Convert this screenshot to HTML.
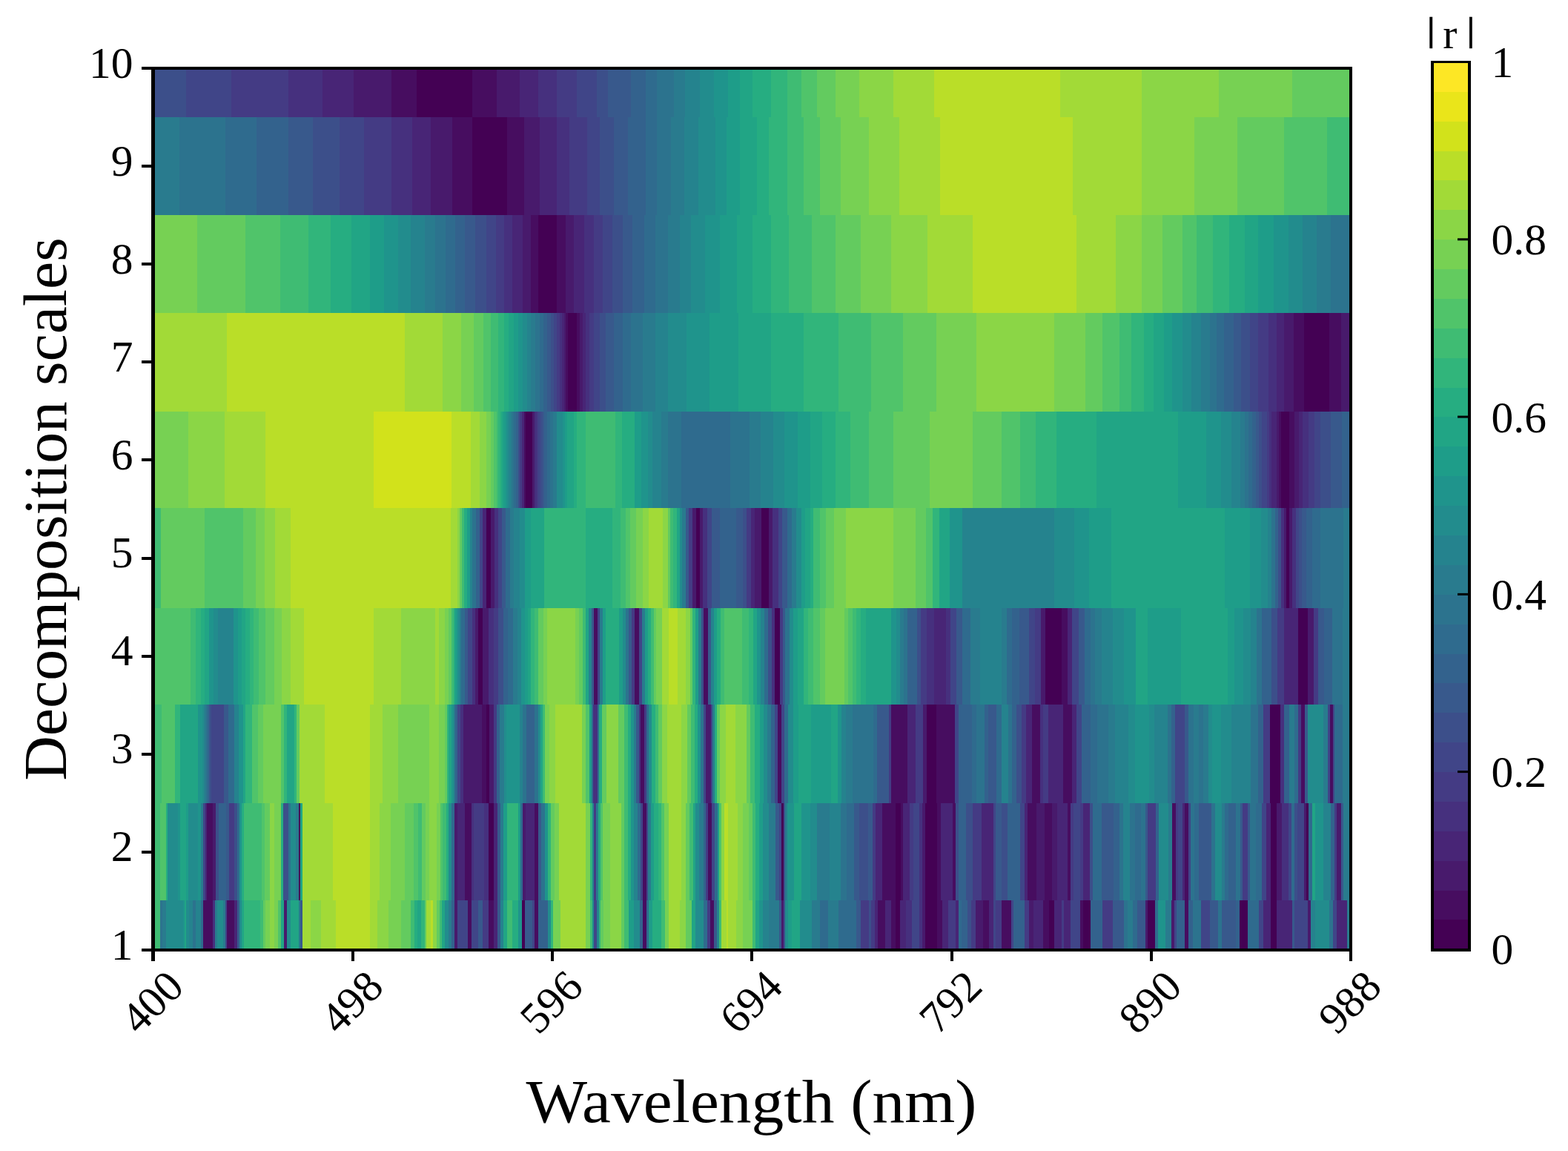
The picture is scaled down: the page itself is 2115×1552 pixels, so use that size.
<!DOCTYPE html>
<html lang="en"><head><meta charset="utf-8"><title>Correlation heat map</title>
<style>html,body{margin:0;padding:0;background:#fff;}body{width:2115px;height:1552px;overflow:hidden;}svg{display:block;}</style>
</head><body>
<svg width="2115" height="1552" viewBox="0 0 2115 1552">
<rect x="0" y="0" width="2115" height="1552" fill="#ffffff"/>
<g shape-rendering="crispEdges">
<rect x="206.50" y="1213.00" width="10.28" height="66.00" fill="#3fbc73"/>
<rect x="216.48" y="1213.00" width="8.05" height="66.00" fill="#50c46a"/>
<rect x="1809.49" y="1213.00" width="3.21" height="66.00" fill="#38598c"/>
<rect x="1812.40" y="1213.00" width="9.90" height="66.00" fill="#297b8e"/>
<rect x="206.50" y="94.00" width="45.05" height="63.80" fill="#3c4f8a"/>
<rect x="251.25" y="94.00" width="60.80" height="63.80" fill="#404588"/>
<rect x="311.75" y="94.00" width="77.37" height="63.80" fill="#443b84"/>
<rect x="388.82" y="94.00" width="46.54" height="63.80" fill="#46307e"/>
<rect x="435.06" y="94.00" width="42.69" height="63.80" fill="#482576"/>
<rect x="477.45" y="94.00" width="50.39" height="63.80" fill="#481a6c"/>
<rect x="527.54" y="94.00" width="34.98" height="63.80" fill="#470d60"/>
<rect x="562.22" y="94.00" width="75.44" height="63.80" fill="#440154"/>
<rect x="637.36" y="94.00" width="33.05" height="63.80" fill="#470d60"/>
<rect x="670.12" y="94.00" width="31.13" height="63.80" fill="#481a6c"/>
<rect x="700.95" y="94.00" width="25.35" height="63.80" fill="#482576"/>
<rect x="725.99" y="94.00" width="25.35" height="63.80" fill="#46307e"/>
<rect x="751.04" y="94.00" width="27.27" height="63.80" fill="#443b84"/>
<rect x="778.01" y="94.00" width="27.27" height="63.80" fill="#404588"/>
<rect x="804.99" y="94.00" width="15.71" height="63.80" fill="#3c4f8a"/>
<rect x="820.40" y="94.00" width="31.13" height="63.80" fill="#38598c"/>
<rect x="851.23" y="94.00" width="19.57" height="63.80" fill="#33628d"/>
<rect x="870.50" y="94.00" width="15.71" height="63.80" fill="#2f6b8e"/>
<rect x="885.91" y="94.00" width="23.42" height="63.80" fill="#2c738e"/>
<rect x="909.03" y="94.00" width="15.71" height="63.80" fill="#297b8e"/>
<rect x="924.44" y="94.00" width="19.57" height="63.80" fill="#25838e"/>
<rect x="943.71" y="94.00" width="19.57" height="63.80" fill="#228c8d"/>
<rect x="962.98" y="94.00" width="19.57" height="63.80" fill="#1f948c"/>
<rect x="982.25" y="94.00" width="15.71" height="63.80" fill="#1e9d89"/>
<rect x="997.66" y="94.00" width="17.64" height="63.80" fill="#21a585"/>
<rect x="1015.00" y="94.00" width="25.35" height="63.80" fill="#26ad81"/>
<rect x="1040.05" y="94.00" width="22.26" height="63.80" fill="#31b57b"/>
<rect x="1062.01" y="94.00" width="19.18" height="63.80" fill="#3fbc73"/>
<rect x="1080.89" y="94.00" width="21.11" height="63.80" fill="#50c46a"/>
<rect x="1101.70" y="94.00" width="25.73" height="63.80" fill="#63cb5f"/>
<rect x="1127.13" y="94.00" width="32.28" height="63.80" fill="#77d153"/>
<rect x="1159.12" y="94.00" width="45.77" height="63.80" fill="#8bd646"/>
<rect x="1204.59" y="94.00" width="55.79" height="63.80" fill="#a2da37"/>
<rect x="1260.08" y="94.00" width="170.24" height="63.80" fill="#bade28"/>
<rect x="1430.01" y="94.00" width="110.12" height="63.80" fill="#a2da37"/>
<rect x="1539.84" y="94.00" width="104.34" height="63.80" fill="#8bd646"/>
<rect x="1643.88" y="94.00" width="99.33" height="63.80" fill="#77d153"/>
<rect x="1742.91" y="94.00" width="79.39" height="63.80" fill="#63cb5f"/>
<rect x="206.50" y="157.50" width="36.19" height="132.80" fill="#297b8e"/>
<rect x="242.39" y="157.50" width="61.95" height="132.80" fill="#2c738e"/>
<rect x="304.04" y="157.50" width="42.69" height="132.80" fill="#2f6b8e"/>
<rect x="346.43" y="157.50" width="42.69" height="132.80" fill="#33628d"/>
<rect x="388.82" y="157.50" width="33.05" height="132.80" fill="#38598c"/>
<rect x="421.57" y="157.50" width="36.91" height="132.80" fill="#3c4f8a"/>
<rect x="458.18" y="157.50" width="33.05" height="132.80" fill="#404588"/>
<rect x="490.93" y="157.50" width="36.91" height="132.80" fill="#443b84"/>
<rect x="527.54" y="157.50" width="29.20" height="132.80" fill="#46307e"/>
<rect x="556.44" y="157.50" width="25.35" height="132.80" fill="#482576"/>
<rect x="581.49" y="157.50" width="29.20" height="132.80" fill="#481a6c"/>
<rect x="610.39" y="157.50" width="27.27" height="132.80" fill="#470d60"/>
<rect x="637.36" y="157.50" width="46.54" height="132.80" fill="#440154"/>
<rect x="683.61" y="157.50" width="23.42" height="132.80" fill="#470d60"/>
<rect x="706.73" y="157.50" width="21.49" height="132.80" fill="#481a6c"/>
<rect x="727.92" y="157.50" width="23.42" height="132.80" fill="#482576"/>
<rect x="751.04" y="157.50" width="17.64" height="132.80" fill="#46307e"/>
<rect x="768.38" y="157.50" width="23.42" height="132.80" fill="#443b84"/>
<rect x="791.50" y="157.50" width="17.64" height="132.80" fill="#404588"/>
<rect x="808.84" y="157.50" width="19.57" height="132.80" fill="#3c4f8a"/>
<rect x="828.11" y="157.50" width="19.57" height="132.80" fill="#38598c"/>
<rect x="847.38" y="157.50" width="23.42" height="132.80" fill="#33628d"/>
<rect x="870.50" y="157.50" width="15.71" height="132.80" fill="#2f6b8e"/>
<rect x="885.91" y="157.50" width="19.57" height="132.80" fill="#2c738e"/>
<rect x="905.18" y="157.50" width="17.64" height="132.80" fill="#297b8e"/>
<rect x="922.52" y="157.50" width="19.57" height="132.80" fill="#25838e"/>
<rect x="941.78" y="157.50" width="23.42" height="132.80" fill="#228c8d"/>
<rect x="964.91" y="157.50" width="15.71" height="132.80" fill="#1f948c"/>
<rect x="980.32" y="157.50" width="17.64" height="132.80" fill="#1e9d89"/>
<rect x="997.66" y="157.50" width="23.42" height="132.80" fill="#21a585"/>
<rect x="1020.78" y="157.50" width="16.87" height="132.80" fill="#26ad81"/>
<rect x="1037.35" y="157.50" width="24.96" height="132.80" fill="#31b57b"/>
<rect x="1062.01" y="157.50" width="22.65" height="132.80" fill="#3fbc73"/>
<rect x="1084.36" y="157.50" width="21.88" height="132.80" fill="#50c46a"/>
<rect x="1105.94" y="157.50" width="28.04" height="132.80" fill="#63cb5f"/>
<rect x="1133.69" y="157.50" width="38.83" height="132.80" fill="#77d153"/>
<rect x="1172.22" y="157.50" width="41.15" height="132.80" fill="#8bd646"/>
<rect x="1213.07" y="157.50" width="55.02" height="132.80" fill="#a2da37"/>
<rect x="1267.78" y="157.50" width="179.10" height="132.80" fill="#bade28"/>
<rect x="1446.58" y="157.50" width="93.55" height="132.80" fill="#a2da37"/>
<rect x="1539.84" y="157.50" width="71.20" height="132.80" fill="#8bd646"/>
<rect x="1610.74" y="157.50" width="58.49" height="132.80" fill="#77d153"/>
<rect x="1668.93" y="157.50" width="63.11" height="132.80" fill="#63cb5f"/>
<rect x="1731.74" y="157.50" width="58.10" height="132.80" fill="#50c46a"/>
<rect x="1789.54" y="157.50" width="32.76" height="132.80" fill="#3fbc73"/>
<rect x="206.50" y="290.00" width="60.08" height="132.30" fill="#77d153"/>
<rect x="266.28" y="290.00" width="65.04" height="132.30" fill="#63cb5f"/>
<rect x="331.02" y="290.00" width="47.31" height="132.30" fill="#50c46a"/>
<rect x="378.03" y="290.00" width="38.06" height="132.30" fill="#3fbc73"/>
<rect x="415.79" y="290.00" width="30.36" height="132.30" fill="#31b57b"/>
<rect x="445.85" y="290.00" width="28.82" height="132.30" fill="#26ad81"/>
<rect x="474.36" y="290.00" width="24.58" height="132.30" fill="#21a585"/>
<rect x="498.64" y="290.00" width="19.95" height="132.30" fill="#1e9d89"/>
<rect x="518.29" y="290.00" width="19.18" height="132.30" fill="#1f948c"/>
<rect x="537.17" y="290.00" width="16.87" height="132.30" fill="#228c8d"/>
<rect x="553.74" y="290.00" width="19.57" height="132.30" fill="#25838e"/>
<rect x="573.01" y="290.00" width="14.56" height="132.30" fill="#297b8e"/>
<rect x="587.27" y="290.00" width="13.79" height="132.30" fill="#2c738e"/>
<rect x="600.76" y="290.00" width="13.79" height="132.30" fill="#2f6b8e"/>
<rect x="614.24" y="290.00" width="13.02" height="132.30" fill="#33628d"/>
<rect x="626.96" y="290.00" width="14.56" height="132.30" fill="#38598c"/>
<rect x="641.22" y="290.00" width="14.94" height="132.30" fill="#3c4f8a"/>
<rect x="655.86" y="290.00" width="13.79" height="132.30" fill="#404588"/>
<rect x="669.35" y="290.00" width="10.70" height="132.30" fill="#443b84"/>
<rect x="679.75" y="290.00" width="11.86" height="132.30" fill="#46307e"/>
<rect x="691.31" y="290.00" width="13.79" height="132.30" fill="#482576"/>
<rect x="704.80" y="290.00" width="11.86" height="132.30" fill="#481a6c"/>
<rect x="716.36" y="290.00" width="9.93" height="132.30" fill="#470d60"/>
<rect x="725.99" y="290.00" width="25.35" height="132.30" fill="#440154"/>
<rect x="751.04" y="290.00" width="11.86" height="132.30" fill="#470d60"/>
<rect x="762.60" y="290.00" width="11.86" height="132.30" fill="#481a6c"/>
<rect x="774.16" y="290.00" width="13.79" height="132.30" fill="#482576"/>
<rect x="787.65" y="290.00" width="13.79" height="132.30" fill="#46307e"/>
<rect x="801.13" y="290.00" width="11.86" height="132.30" fill="#443b84"/>
<rect x="812.70" y="290.00" width="13.79" height="132.30" fill="#404588"/>
<rect x="826.18" y="290.00" width="13.79" height="132.30" fill="#3c4f8a"/>
<rect x="839.67" y="290.00" width="13.79" height="132.30" fill="#38598c"/>
<rect x="853.16" y="290.00" width="15.71" height="132.30" fill="#33628d"/>
<rect x="868.57" y="290.00" width="15.71" height="132.30" fill="#2f6b8e"/>
<rect x="883.98" y="290.00" width="17.64" height="132.30" fill="#2c738e"/>
<rect x="901.32" y="290.00" width="15.71" height="132.30" fill="#297b8e"/>
<rect x="916.74" y="290.00" width="15.71" height="132.30" fill="#25838e"/>
<rect x="932.15" y="290.00" width="19.57" height="132.30" fill="#228c8d"/>
<rect x="951.42" y="290.00" width="19.57" height="132.30" fill="#1f948c"/>
<rect x="970.69" y="290.00" width="23.42" height="132.30" fill="#1e9d89"/>
<rect x="993.81" y="290.00" width="21.49" height="132.30" fill="#21a585"/>
<rect x="1015.00" y="290.00" width="25.35" height="132.30" fill="#26ad81"/>
<rect x="1040.05" y="290.00" width="24.19" height="132.30" fill="#31b57b"/>
<rect x="1063.94" y="290.00" width="31.51" height="132.30" fill="#3fbc73"/>
<rect x="1095.15" y="290.00" width="32.28" height="132.30" fill="#50c46a"/>
<rect x="1127.13" y="290.00" width="33.82" height="132.30" fill="#63cb5f"/>
<rect x="1160.66" y="290.00" width="41.92" height="132.30" fill="#77d153"/>
<rect x="1202.28" y="290.00" width="48.85" height="132.30" fill="#8bd646"/>
<rect x="1250.83" y="290.00" width="61.18" height="132.30" fill="#a2da37"/>
<rect x="1311.71" y="290.00" width="140.18" height="132.30" fill="#bade28"/>
<rect x="1451.59" y="290.00" width="53.86" height="132.30" fill="#a2da37"/>
<rect x="1505.16" y="290.00" width="34.98" height="132.30" fill="#8bd646"/>
<rect x="1539.84" y="290.00" width="28.43" height="132.30" fill="#77d153"/>
<rect x="1567.97" y="290.00" width="27.27" height="132.30" fill="#63cb5f"/>
<rect x="1594.94" y="290.00" width="19.57" height="132.30" fill="#50c46a"/>
<rect x="1614.21" y="290.00" width="22.26" height="132.30" fill="#3fbc73"/>
<rect x="1636.17" y="290.00" width="21.88" height="132.30" fill="#31b57b"/>
<rect x="1657.75" y="290.00" width="21.11" height="132.30" fill="#26ad81"/>
<rect x="1678.56" y="290.00" width="18.80" height="132.30" fill="#21a585"/>
<rect x="1697.06" y="290.00" width="21.49" height="132.30" fill="#1e9d89"/>
<rect x="1718.25" y="290.00" width="19.57" height="132.30" fill="#1f948c"/>
<rect x="1737.52" y="290.00" width="19.57" height="132.30" fill="#228c8d"/>
<rect x="1756.78" y="290.00" width="19.57" height="132.30" fill="#25838e"/>
<rect x="1776.05" y="290.00" width="19.57" height="132.30" fill="#297b8e"/>
<rect x="1795.32" y="290.00" width="26.98" height="132.30" fill="#2c738e"/>
<rect x="206.50" y="422.00" width="99.77" height="132.80" fill="#a2da37"/>
<rect x="305.97" y="422.00" width="239.98" height="132.80" fill="#bade28"/>
<rect x="545.65" y="422.00" width="51.55" height="132.80" fill="#a2da37"/>
<rect x="596.90" y="422.00" width="25.35" height="132.80" fill="#8bd646"/>
<rect x="621.95" y="422.00" width="16.87" height="132.80" fill="#77d153"/>
<rect x="638.52" y="422.00" width="13.40" height="132.80" fill="#63cb5f"/>
<rect x="651.62" y="422.00" width="11.09" height="132.80" fill="#50c46a"/>
<rect x="662.41" y="422.00" width="9.93" height="132.80" fill="#3fbc73"/>
<rect x="672.04" y="422.00" width="8.01" height="132.80" fill="#31b57b"/>
<rect x="679.75" y="422.00" width="6.85" height="132.80" fill="#26ad81"/>
<rect x="686.30" y="422.00" width="7.24" height="132.80" fill="#21a585"/>
<rect x="693.24" y="422.00" width="6.08" height="132.80" fill="#1e9d89"/>
<rect x="699.02" y="422.00" width="6.08" height="132.80" fill="#1f948c"/>
<rect x="704.80" y="422.00" width="6.08" height="132.80" fill="#228c8d"/>
<rect x="710.58" y="422.00" width="6.08" height="132.80" fill="#25838e"/>
<rect x="716.36" y="422.00" width="6.08" height="132.80" fill="#297b8e"/>
<rect x="722.14" y="422.00" width="6.08" height="132.80" fill="#2c738e"/>
<rect x="727.92" y="422.00" width="5.31" height="132.80" fill="#2f6b8e"/>
<rect x="732.93" y="422.00" width="5.31" height="132.80" fill="#33628d"/>
<rect x="737.94" y="422.00" width="4.92" height="132.80" fill="#38598c"/>
<rect x="742.56" y="422.00" width="4.92" height="132.80" fill="#3c4f8a"/>
<rect x="747.19" y="422.00" width="4.15" height="132.80" fill="#404588"/>
<rect x="751.04" y="422.00" width="4.15" height="132.80" fill="#443b84"/>
<rect x="754.89" y="422.00" width="3.38" height="132.80" fill="#46307e"/>
<rect x="757.98" y="422.00" width="3.00" height="132.80" fill="#482576"/>
<rect x="760.67" y="422.00" width="3.00" height="132.80" fill="#481a6c"/>
<rect x="763.37" y="422.00" width="3.38" height="132.80" fill="#470d60"/>
<rect x="766.45" y="422.00" width="11.86" height="132.80" fill="#440154"/>
<rect x="778.01" y="422.00" width="4.15" height="132.80" fill="#470d60"/>
<rect x="781.87" y="422.00" width="4.15" height="132.80" fill="#481a6c"/>
<rect x="785.72" y="422.00" width="4.15" height="132.80" fill="#482576"/>
<rect x="789.57" y="422.00" width="6.08" height="132.80" fill="#46307e"/>
<rect x="795.35" y="422.00" width="6.08" height="132.80" fill="#443b84"/>
<rect x="801.13" y="422.00" width="8.01" height="132.80" fill="#404588"/>
<rect x="808.84" y="422.00" width="8.01" height="132.80" fill="#3c4f8a"/>
<rect x="816.55" y="422.00" width="11.86" height="132.80" fill="#38598c"/>
<rect x="828.11" y="422.00" width="11.86" height="132.80" fill="#33628d"/>
<rect x="839.67" y="422.00" width="11.86" height="132.80" fill="#2f6b8e"/>
<rect x="851.23" y="422.00" width="15.71" height="132.80" fill="#2c738e"/>
<rect x="866.64" y="422.00" width="17.64" height="132.80" fill="#297b8e"/>
<rect x="883.98" y="422.00" width="17.64" height="132.80" fill="#25838e"/>
<rect x="901.32" y="422.00" width="25.35" height="132.80" fill="#228c8d"/>
<rect x="926.37" y="422.00" width="31.13" height="132.80" fill="#1f948c"/>
<rect x="957.20" y="422.00" width="38.83" height="132.80" fill="#1e9d89"/>
<rect x="995.73" y="422.00" width="44.61" height="132.80" fill="#21a585"/>
<rect x="1040.05" y="422.00" width="43.84" height="132.80" fill="#26ad81"/>
<rect x="1083.59" y="422.00" width="47.31" height="132.80" fill="#31b57b"/>
<rect x="1130.60" y="422.00" width="44.61" height="132.80" fill="#3fbc73"/>
<rect x="1174.92" y="422.00" width="43.46" height="132.80" fill="#50c46a"/>
<rect x="1218.08" y="422.00" width="45.00" height="132.80" fill="#63cb5f"/>
<rect x="1262.78" y="422.00" width="54.25" height="132.80" fill="#77d153"/>
<rect x="1316.72" y="422.00" width="105.11" height="132.80" fill="#8bd646"/>
<rect x="1421.54" y="422.00" width="42.69" height="132.80" fill="#77d153"/>
<rect x="1463.92" y="422.00" width="23.42" height="132.80" fill="#63cb5f"/>
<rect x="1487.04" y="422.00" width="23.42" height="132.80" fill="#50c46a"/>
<rect x="1510.17" y="422.00" width="15.71" height="132.80" fill="#3fbc73"/>
<rect x="1525.58" y="422.00" width="17.64" height="132.80" fill="#31b57b"/>
<rect x="1542.92" y="422.00" width="13.79" height="132.80" fill="#26ad81"/>
<rect x="1556.41" y="422.00" width="13.79" height="132.80" fill="#21a585"/>
<rect x="1569.89" y="422.00" width="11.86" height="132.80" fill="#1e9d89"/>
<rect x="1581.45" y="422.00" width="13.79" height="132.80" fill="#1f948c"/>
<rect x="1594.94" y="422.00" width="11.86" height="132.80" fill="#228c8d"/>
<rect x="1606.50" y="422.00" width="13.79" height="132.80" fill="#25838e"/>
<rect x="1619.99" y="422.00" width="11.86" height="132.80" fill="#297b8e"/>
<rect x="1631.55" y="422.00" width="9.93" height="132.80" fill="#2c738e"/>
<rect x="1641.18" y="422.00" width="9.93" height="132.80" fill="#2f6b8e"/>
<rect x="1650.82" y="422.00" width="13.02" height="132.80" fill="#33628d"/>
<rect x="1663.53" y="422.00" width="10.70" height="132.80" fill="#38598c"/>
<rect x="1673.94" y="422.00" width="11.86" height="132.80" fill="#3c4f8a"/>
<rect x="1685.50" y="422.00" width="11.86" height="132.80" fill="#404588"/>
<rect x="1697.06" y="422.00" width="13.79" height="132.80" fill="#443b84"/>
<rect x="1710.54" y="422.00" width="11.86" height="132.80" fill="#46307e"/>
<rect x="1722.10" y="422.00" width="9.93" height="132.80" fill="#482576"/>
<rect x="1731.74" y="422.00" width="13.79" height="132.80" fill="#481a6c"/>
<rect x="1745.22" y="422.00" width="13.79" height="132.80" fill="#470d60"/>
<rect x="1758.71" y="422.00" width="34.98" height="132.80" fill="#440154"/>
<rect x="1793.39" y="422.00" width="15.71" height="132.80" fill="#470d60"/>
<rect x="1808.81" y="422.00" width="13.49" height="132.80" fill="#481a6c"/>
<rect x="206.50" y="554.50" width="47.75" height="130.80" fill="#77d153"/>
<rect x="253.95" y="554.50" width="49.62" height="130.80" fill="#8bd646"/>
<rect x="303.27" y="554.50" width="55.02" height="130.80" fill="#a2da37"/>
<rect x="357.99" y="554.50" width="145.96" height="130.80" fill="#bade28"/>
<rect x="503.65" y="554.50" width="105.88" height="130.80" fill="#d2e21b"/>
<rect x="609.23" y="554.50" width="26.50" height="130.80" fill="#bade28"/>
<rect x="635.44" y="554.50" width="11.47" height="130.80" fill="#a2da37"/>
<rect x="646.61" y="554.50" width="9.55" height="130.80" fill="#8bd646"/>
<rect x="655.86" y="554.50" width="6.85" height="130.80" fill="#77d153"/>
<rect x="662.41" y="554.50" width="4.15" height="130.80" fill="#63cb5f"/>
<rect x="666.26" y="554.50" width="4.15" height="130.80" fill="#50c46a"/>
<rect x="670.12" y="554.50" width="2.61" height="130.80" fill="#3fbc73"/>
<rect x="672.43" y="554.50" width="2.61" height="130.80" fill="#31b57b"/>
<rect x="674.74" y="554.50" width="2.61" height="130.80" fill="#26ad81"/>
<rect x="677.05" y="554.50" width="2.61" height="130.80" fill="#21a585"/>
<rect x="679.37" y="554.50" width="2.61" height="130.80" fill="#1e9d89"/>
<rect x="681.68" y="554.50" width="2.61" height="130.80" fill="#1f948c"/>
<rect x="683.99" y="554.50" width="2.61" height="130.80" fill="#228c8d"/>
<rect x="686.30" y="554.50" width="2.61" height="130.80" fill="#25838e"/>
<rect x="688.61" y="554.50" width="2.61" height="130.80" fill="#297b8e"/>
<rect x="690.93" y="554.50" width="2.61" height="130.80" fill="#2c738e"/>
<rect x="693.24" y="554.50" width="3.38" height="130.80" fill="#2f6b8e"/>
<rect x="696.32" y="554.50" width="3.00" height="130.80" fill="#33628d"/>
<rect x="699.02" y="554.50" width="2.61" height="130.80" fill="#3c4f8a"/>
<rect x="701.33" y="554.50" width="2.61" height="130.80" fill="#443b84"/>
<rect x="703.64" y="554.50" width="3.38" height="130.80" fill="#482576"/>
<rect x="706.73" y="554.50" width="3.00" height="130.80" fill="#470d60"/>
<rect x="709.42" y="554.50" width="8.39" height="130.80" fill="#440154"/>
<rect x="717.52" y="554.50" width="4.15" height="130.80" fill="#481a6c"/>
<rect x="721.37" y="554.50" width="3.00" height="130.80" fill="#46307e"/>
<rect x="724.07" y="554.50" width="2.61" height="130.80" fill="#443b84"/>
<rect x="726.38" y="554.50" width="2.61" height="130.80" fill="#404588"/>
<rect x="728.69" y="554.50" width="3.38" height="130.80" fill="#3c4f8a"/>
<rect x="731.77" y="554.50" width="3.00" height="130.80" fill="#38598c"/>
<rect x="734.47" y="554.50" width="4.15" height="130.80" fill="#33628d"/>
<rect x="738.32" y="554.50" width="3.77" height="130.80" fill="#2f6b8e"/>
<rect x="741.79" y="554.50" width="4.92" height="130.80" fill="#2c738e"/>
<rect x="746.42" y="554.50" width="5.31" height="130.80" fill="#297b8e"/>
<rect x="751.43" y="554.50" width="7.62" height="130.80" fill="#228c8d"/>
<rect x="758.75" y="554.50" width="3.38" height="130.80" fill="#1f948c"/>
<rect x="761.83" y="554.50" width="3.00" height="130.80" fill="#1e9d89"/>
<rect x="764.53" y="554.50" width="9.93" height="130.80" fill="#21a585"/>
<rect x="774.16" y="554.50" width="4.54" height="130.80" fill="#26ad81"/>
<rect x="778.40" y="554.50" width="11.47" height="130.80" fill="#31b57b"/>
<rect x="789.57" y="554.50" width="40.38" height="130.80" fill="#3fbc73"/>
<rect x="829.65" y="554.50" width="9.93" height="130.80" fill="#31b57b"/>
<rect x="839.28" y="554.50" width="16.87" height="130.80" fill="#26ad81"/>
<rect x="855.85" y="554.50" width="9.93" height="130.80" fill="#1e9d89"/>
<rect x="865.49" y="554.50" width="9.16" height="130.80" fill="#1f948c"/>
<rect x="874.35" y="554.50" width="6.08" height="130.80" fill="#228c8d"/>
<rect x="880.13" y="554.50" width="12.25" height="130.80" fill="#25838e"/>
<rect x="892.08" y="554.50" width="9.55" height="130.80" fill="#297b8e"/>
<rect x="901.32" y="554.50" width="18.03" height="130.80" fill="#2c738e"/>
<rect x="919.05" y="554.50" width="65.81" height="130.80" fill="#2f6b8e"/>
<rect x="984.56" y="554.50" width="26.50" height="130.80" fill="#2c738e"/>
<rect x="1010.76" y="554.50" width="15.33" height="130.80" fill="#297b8e"/>
<rect x="1025.79" y="554.50" width="17.26" height="130.80" fill="#25838e"/>
<rect x="1042.74" y="554.50" width="15.71" height="130.80" fill="#228c8d"/>
<rect x="1058.16" y="554.50" width="18.03" height="130.80" fill="#1f948c"/>
<rect x="1075.88" y="554.50" width="17.26" height="130.80" fill="#1e9d89"/>
<rect x="1092.84" y="554.50" width="16.10" height="130.80" fill="#21a585"/>
<rect x="1108.64" y="554.50" width="18.80" height="130.80" fill="#26ad81"/>
<rect x="1127.13" y="554.50" width="19.95" height="130.80" fill="#31b57b"/>
<rect x="1146.79" y="554.50" width="25.73" height="130.80" fill="#3fbc73"/>
<rect x="1172.22" y="554.50" width="32.67" height="130.80" fill="#50c46a"/>
<rect x="1204.59" y="554.50" width="49.62" height="130.80" fill="#63cb5f"/>
<rect x="1253.91" y="554.50" width="58.10" height="130.80" fill="#77d153"/>
<rect x="1311.71" y="554.50" width="39.60" height="130.80" fill="#63cb5f"/>
<rect x="1351.02" y="554.50" width="24.96" height="130.80" fill="#50c46a"/>
<rect x="1375.68" y="554.50" width="21.88" height="130.80" fill="#3fbc73"/>
<rect x="1397.26" y="554.50" width="28.43" height="130.80" fill="#31b57b"/>
<rect x="1425.39" y="554.50" width="54.25" height="130.80" fill="#26ad81"/>
<rect x="1479.34" y="554.50" width="109.74" height="130.80" fill="#21a585"/>
<rect x="1588.78" y="554.50" width="38.06" height="130.80" fill="#1e9d89"/>
<rect x="1626.54" y="554.50" width="20.72" height="130.80" fill="#1f948c"/>
<rect x="1646.96" y="554.50" width="14.56" height="130.80" fill="#228c8d"/>
<rect x="1661.22" y="554.50" width="12.25" height="130.80" fill="#25838e"/>
<rect x="1673.17" y="554.50" width="5.69" height="130.80" fill="#297b8e"/>
<rect x="1678.56" y="554.50" width="5.31" height="130.80" fill="#2c738e"/>
<rect x="1683.57" y="554.50" width="5.31" height="130.80" fill="#2f6b8e"/>
<rect x="1688.58" y="554.50" width="5.69" height="130.80" fill="#33628d"/>
<rect x="1693.97" y="554.50" width="4.54" height="130.80" fill="#38598c"/>
<rect x="1698.21" y="554.50" width="4.15" height="130.80" fill="#3c4f8a"/>
<rect x="1702.07" y="554.50" width="6.85" height="130.80" fill="#404588"/>
<rect x="1708.62" y="554.50" width="3.77" height="130.80" fill="#443b84"/>
<rect x="1712.09" y="554.50" width="3.38" height="130.80" fill="#46307e"/>
<rect x="1715.17" y="554.50" width="6.85" height="130.80" fill="#482576"/>
<rect x="1721.72" y="554.50" width="3.77" height="130.80" fill="#481a6c"/>
<rect x="1725.19" y="554.50" width="3.38" height="130.80" fill="#470d60"/>
<rect x="1728.27" y="554.50" width="11.47" height="130.80" fill="#440154"/>
<rect x="1739.44" y="554.50" width="6.85" height="130.80" fill="#470d60"/>
<rect x="1746.00" y="554.50" width="6.08" height="130.80" fill="#481a6c"/>
<rect x="1751.78" y="554.50" width="5.69" height="130.80" fill="#482576"/>
<rect x="1757.17" y="554.50" width="8.01" height="130.80" fill="#46307e"/>
<rect x="1764.88" y="554.50" width="8.78" height="130.80" fill="#443b84"/>
<rect x="1773.35" y="554.50" width="7.62" height="130.80" fill="#404588"/>
<rect x="1780.68" y="554.50" width="14.17" height="130.80" fill="#3c4f8a"/>
<rect x="1794.55" y="554.50" width="15.33" height="130.80" fill="#38598c"/>
<rect x="1809.58" y="554.50" width="12.72" height="130.80" fill="#33628d"/>
<rect x="206.50" y="685.00" width="11.14" height="134.80" fill="#3fbc73"/>
<rect x="217.34" y="685.00" width="58.87" height="134.80" fill="#63cb5f"/>
<rect x="275.91" y="685.00" width="52.32" height="134.80" fill="#50c46a"/>
<rect x="327.93" y="685.00" width="17.26" height="134.80" fill="#63cb5f"/>
<rect x="344.89" y="685.00" width="12.63" height="134.80" fill="#77d153"/>
<rect x="357.22" y="685.00" width="14.56" height="134.80" fill="#8bd646"/>
<rect x="371.48" y="685.00" width="20.72" height="134.80" fill="#a2da37"/>
<rect x="391.90" y="685.00" width="216.86" height="134.80" fill="#bade28"/>
<rect x="608.46" y="685.00" width="8.39" height="134.80" fill="#a2da37"/>
<rect x="616.56" y="685.00" width="4.15" height="134.80" fill="#8bd646"/>
<rect x="620.41" y="685.00" width="3.00" height="134.80" fill="#63cb5f"/>
<rect x="623.11" y="685.00" width="3.38" height="134.80" fill="#3fbc73"/>
<rect x="626.19" y="685.00" width="3.77" height="134.80" fill="#26ad81"/>
<rect x="629.66" y="685.00" width="4.15" height="134.80" fill="#1e9d89"/>
<rect x="633.51" y="685.00" width="4.15" height="134.80" fill="#25838e"/>
<rect x="637.36" y="685.00" width="4.92" height="134.80" fill="#2c738e"/>
<rect x="641.99" y="685.00" width="4.92" height="134.80" fill="#33628d"/>
<rect x="646.61" y="685.00" width="4.92" height="134.80" fill="#404588"/>
<rect x="651.24" y="685.00" width="4.92" height="134.80" fill="#482576"/>
<rect x="655.86" y="685.00" width="6.85" height="134.80" fill="#440154"/>
<rect x="662.41" y="685.00" width="4.92" height="134.80" fill="#481a6c"/>
<rect x="667.04" y="685.00" width="4.92" height="134.80" fill="#46307e"/>
<rect x="671.66" y="685.00" width="5.31" height="134.80" fill="#404588"/>
<rect x="676.67" y="685.00" width="5.69" height="134.80" fill="#38598c"/>
<rect x="682.06" y="685.00" width="6.08" height="134.80" fill="#2f6b8e"/>
<rect x="687.84" y="685.00" width="5.69" height="134.80" fill="#297b8e"/>
<rect x="693.24" y="685.00" width="8.01" height="134.80" fill="#25838e"/>
<rect x="700.95" y="685.00" width="7.62" height="134.80" fill="#228c8d"/>
<rect x="708.27" y="685.00" width="7.62" height="134.80" fill="#1e9d89"/>
<rect x="715.59" y="685.00" width="19.18" height="134.80" fill="#21a585"/>
<rect x="734.47" y="685.00" width="55.40" height="134.80" fill="#31b57b"/>
<rect x="789.57" y="685.00" width="36.91" height="134.80" fill="#26ad81"/>
<rect x="826.18" y="685.00" width="11.47" height="134.80" fill="#31b57b"/>
<rect x="837.36" y="685.00" width="6.85" height="134.80" fill="#3fbc73"/>
<rect x="843.91" y="685.00" width="6.85" height="134.80" fill="#50c46a"/>
<rect x="850.46" y="685.00" width="7.62" height="134.80" fill="#63cb5f"/>
<rect x="857.78" y="685.00" width="9.55" height="134.80" fill="#77d153"/>
<rect x="867.03" y="685.00" width="8.01" height="134.80" fill="#8bd646"/>
<rect x="874.74" y="685.00" width="19.57" height="134.80" fill="#a2da37"/>
<rect x="894.00" y="685.00" width="6.85" height="134.80" fill="#8bd646"/>
<rect x="900.55" y="685.00" width="3.77" height="134.80" fill="#63cb5f"/>
<rect x="904.02" y="685.00" width="4.15" height="134.80" fill="#3fbc73"/>
<rect x="907.87" y="685.00" width="4.92" height="134.80" fill="#31b57b"/>
<rect x="912.50" y="685.00" width="4.92" height="134.80" fill="#21a585"/>
<rect x="917.12" y="685.00" width="3.38" height="134.80" fill="#228c8d"/>
<rect x="920.21" y="685.00" width="4.92" height="134.80" fill="#297b8e"/>
<rect x="924.83" y="685.00" width="4.92" height="134.80" fill="#38598c"/>
<rect x="929.45" y="685.00" width="4.92" height="134.80" fill="#443b84"/>
<rect x="934.08" y="685.00" width="4.92" height="134.80" fill="#481a6c"/>
<rect x="938.70" y="685.00" width="6.08" height="134.80" fill="#440154"/>
<rect x="944.48" y="685.00" width="3.77" height="134.80" fill="#481a6c"/>
<rect x="947.95" y="685.00" width="6.08" height="134.80" fill="#46307e"/>
<rect x="953.73" y="685.00" width="6.85" height="134.80" fill="#404588"/>
<rect x="960.28" y="685.00" width="11.47" height="134.80" fill="#38598c"/>
<rect x="971.46" y="685.00" width="21.88" height="134.80" fill="#33628d"/>
<rect x="993.04" y="685.00" width="8.78" height="134.80" fill="#38598c"/>
<rect x="1001.51" y="685.00" width="5.69" height="134.80" fill="#3c4f8a"/>
<rect x="1006.91" y="685.00" width="6.08" height="134.80" fill="#443b84"/>
<rect x="1012.69" y="685.00" width="5.69" height="134.80" fill="#482576"/>
<rect x="1018.08" y="685.00" width="8.78" height="134.80" fill="#481a6c"/>
<rect x="1026.56" y="685.00" width="10.70" height="134.80" fill="#440154"/>
<rect x="1036.96" y="685.00" width="5.69" height="134.80" fill="#481a6c"/>
<rect x="1042.36" y="685.00" width="8.01" height="134.80" fill="#46307e"/>
<rect x="1050.07" y="685.00" width="5.69" height="134.80" fill="#404588"/>
<rect x="1055.46" y="685.00" width="6.85" height="134.80" fill="#38598c"/>
<rect x="1062.01" y="685.00" width="6.08" height="134.80" fill="#2f6b8e"/>
<rect x="1067.79" y="685.00" width="6.85" height="134.80" fill="#297b8e"/>
<rect x="1074.34" y="685.00" width="6.85" height="134.80" fill="#228c8d"/>
<rect x="1080.89" y="685.00" width="4.92" height="134.80" fill="#1e9d89"/>
<rect x="1085.52" y="685.00" width="7.62" height="134.80" fill="#21a585"/>
<rect x="1092.84" y="685.00" width="4.92" height="134.80" fill="#26ad81"/>
<rect x="1097.46" y="685.00" width="8.78" height="134.80" fill="#3fbc73"/>
<rect x="1105.94" y="685.00" width="8.01" height="134.80" fill="#50c46a"/>
<rect x="1113.65" y="685.00" width="11.47" height="134.80" fill="#63cb5f"/>
<rect x="1124.82" y="685.00" width="16.10" height="134.80" fill="#77d153"/>
<rect x="1140.62" y="685.00" width="64.27" height="134.80" fill="#8bd646"/>
<rect x="1204.59" y="685.00" width="30.36" height="134.80" fill="#77d153"/>
<rect x="1234.65" y="685.00" width="14.94" height="134.80" fill="#63cb5f"/>
<rect x="1249.29" y="685.00" width="8.78" height="134.80" fill="#50c46a"/>
<rect x="1257.77" y="685.00" width="9.93" height="134.80" fill="#31b57b"/>
<rect x="1267.40" y="685.00" width="13.79" height="134.80" fill="#21a585"/>
<rect x="1280.89" y="685.00" width="17.64" height="134.80" fill="#1f948c"/>
<rect x="1298.23" y="685.00" width="123.61" height="134.80" fill="#25838e"/>
<rect x="1421.54" y="685.00" width="27.27" height="134.80" fill="#228c8d"/>
<rect x="1448.51" y="685.00" width="20.72" height="134.80" fill="#1f948c"/>
<rect x="1468.93" y="685.00" width="29.97" height="134.80" fill="#1e9d89"/>
<rect x="1498.61" y="685.00" width="153.28" height="134.80" fill="#21a585"/>
<rect x="1651.59" y="685.00" width="34.21" height="134.80" fill="#1e9d89"/>
<rect x="1685.50" y="685.00" width="16.10" height="134.80" fill="#1f948c"/>
<rect x="1701.30" y="685.00" width="8.78" height="134.80" fill="#228c8d"/>
<rect x="1709.77" y="685.00" width="5.69" height="134.80" fill="#25838e"/>
<rect x="1715.17" y="685.00" width="4.92" height="134.80" fill="#2c738e"/>
<rect x="1719.79" y="685.00" width="4.15" height="134.80" fill="#33628d"/>
<rect x="1723.65" y="685.00" width="4.92" height="134.80" fill="#3c4f8a"/>
<rect x="1728.27" y="685.00" width="4.15" height="134.80" fill="#46307e"/>
<rect x="1732.12" y="685.00" width="3.00" height="134.80" fill="#481a6c"/>
<rect x="1734.82" y="685.00" width="4.92" height="134.80" fill="#440154"/>
<rect x="1739.44" y="685.00" width="4.15" height="134.80" fill="#481a6c"/>
<rect x="1743.30" y="685.00" width="4.92" height="134.80" fill="#46307e"/>
<rect x="1747.92" y="685.00" width="4.15" height="134.80" fill="#404588"/>
<rect x="1751.78" y="685.00" width="4.92" height="134.80" fill="#3c4f8a"/>
<rect x="1756.40" y="685.00" width="6.08" height="134.80" fill="#38598c"/>
<rect x="1762.18" y="685.00" width="8.39" height="134.80" fill="#33628d"/>
<rect x="1770.27" y="685.00" width="10.70" height="134.80" fill="#2f6b8e"/>
<rect x="1780.68" y="685.00" width="31.13" height="134.80" fill="#2c738e"/>
<rect x="1811.50" y="685.00" width="10.80" height="134.80" fill="#297b8e"/>
<rect x="206.50" y="819.50" width="50.49" height="130.80" fill="#50c46a"/>
<rect x="256.69" y="819.50" width="8.03" height="130.80" fill="#3fbc73"/>
<rect x="264.42" y="819.50" width="6.74" height="130.80" fill="#31b57b"/>
<rect x="270.86" y="819.50" width="5.45" height="130.80" fill="#26ad81"/>
<rect x="276.02" y="819.50" width="6.74" height="130.80" fill="#21a585"/>
<rect x="282.46" y="819.50" width="5.45" height="130.80" fill="#1f948c"/>
<rect x="287.61" y="819.50" width="6.74" height="130.80" fill="#228c8d"/>
<rect x="294.05" y="819.50" width="20.91" height="130.80" fill="#25838e"/>
<rect x="314.67" y="819.50" width="6.74" height="130.80" fill="#1f948c"/>
<rect x="321.11" y="819.50" width="5.45" height="130.80" fill="#1e9d89"/>
<rect x="326.26" y="819.50" width="5.45" height="130.80" fill="#21a585"/>
<rect x="331.42" y="819.50" width="5.45" height="130.80" fill="#26ad81"/>
<rect x="336.57" y="819.50" width="5.45" height="130.80" fill="#31b57b"/>
<rect x="341.73" y="819.50" width="8.03" height="130.80" fill="#3fbc73"/>
<rect x="349.46" y="819.50" width="8.55" height="130.80" fill="#50c46a"/>
<rect x="357.70" y="819.50" width="12.67" height="130.80" fill="#63cb5f"/>
<rect x="370.07" y="819.50" width="10.09" height="130.80" fill="#77d153"/>
<rect x="379.86" y="819.50" width="12.41" height="130.80" fill="#8bd646"/>
<rect x="391.97" y="819.50" width="18.34" height="130.80" fill="#a2da37"/>
<rect x="410.01" y="819.50" width="94.35" height="130.80" fill="#bade28"/>
<rect x="504.07" y="819.50" width="37.15" height="130.80" fill="#a2da37"/>
<rect x="540.91" y="819.50" width="46.17" height="130.80" fill="#8bd646"/>
<rect x="586.78" y="819.50" width="5.71" height="130.80" fill="#a2da37"/>
<rect x="592.19" y="819.50" width="8.29" height="130.80" fill="#8bd646"/>
<rect x="600.18" y="819.50" width="5.45" height="130.80" fill="#77d153"/>
<rect x="605.34" y="819.50" width="3.91" height="130.80" fill="#63cb5f"/>
<rect x="608.94" y="819.50" width="2.88" height="130.80" fill="#3fbc73"/>
<rect x="611.52" y="819.50" width="3.13" height="130.80" fill="#26ad81"/>
<rect x="614.35" y="819.50" width="2.88" height="130.80" fill="#1e9d89"/>
<rect x="616.93" y="819.50" width="2.88" height="130.80" fill="#228c8d"/>
<rect x="619.51" y="819.50" width="3.13" height="130.80" fill="#297b8e"/>
<rect x="622.34" y="819.50" width="4.68" height="130.80" fill="#2f6b8e"/>
<rect x="626.72" y="819.50" width="4.68" height="130.80" fill="#38598c"/>
<rect x="631.10" y="819.50" width="5.71" height="130.80" fill="#404588"/>
<rect x="636.52" y="819.50" width="4.68" height="130.80" fill="#46307e"/>
<rect x="640.90" y="819.50" width="4.68" height="130.80" fill="#481a6c"/>
<rect x="645.28" y="819.50" width="6.48" height="130.80" fill="#440154"/>
<rect x="651.46" y="819.50" width="8.29" height="130.80" fill="#481a6c"/>
<rect x="659.45" y="819.50" width="7.26" height="130.80" fill="#46307e"/>
<rect x="666.41" y="819.50" width="5.71" height="130.80" fill="#443b84"/>
<rect x="671.82" y="819.50" width="7.52" height="130.80" fill="#3c4f8a"/>
<rect x="679.03" y="819.50" width="6.48" height="130.80" fill="#33628d"/>
<rect x="685.22" y="819.50" width="7.26" height="130.80" fill="#2f6b8e"/>
<rect x="692.17" y="819.50" width="6.48" height="130.80" fill="#297b8e"/>
<rect x="698.36" y="819.50" width="4.68" height="130.80" fill="#25838e"/>
<rect x="702.74" y="819.50" width="5.71" height="130.80" fill="#1f948c"/>
<rect x="708.15" y="819.50" width="3.91" height="130.80" fill="#1e9d89"/>
<rect x="711.76" y="819.50" width="4.68" height="130.80" fill="#21a585"/>
<rect x="716.14" y="819.50" width="4.68" height="130.80" fill="#31b57b"/>
<rect x="720.52" y="819.50" width="5.71" height="130.80" fill="#3fbc73"/>
<rect x="725.93" y="819.50" width="7.26" height="130.80" fill="#63cb5f"/>
<rect x="732.89" y="819.50" width="5.45" height="130.80" fill="#77d153"/>
<rect x="738.04" y="819.50" width="38.18" height="130.80" fill="#8bd646"/>
<rect x="775.92" y="819.50" width="5.45" height="130.80" fill="#77d153"/>
<rect x="781.08" y="819.50" width="5.45" height="130.80" fill="#63cb5f"/>
<rect x="786.23" y="819.50" width="4.17" height="130.80" fill="#3fbc73"/>
<rect x="790.09" y="819.50" width="4.17" height="130.80" fill="#21a585"/>
<rect x="793.96" y="819.50" width="4.17" height="130.80" fill="#25838e"/>
<rect x="797.83" y="819.50" width="3.65" height="130.80" fill="#38598c"/>
<rect x="801.17" y="819.50" width="4.68" height="130.80" fill="#470d60"/>
<rect x="805.56" y="819.50" width="4.17" height="130.80" fill="#404588"/>
<rect x="809.42" y="819.50" width="4.17" height="130.80" fill="#297b8e"/>
<rect x="813.29" y="819.50" width="4.17" height="130.80" fill="#1e9d89"/>
<rect x="817.15" y="819.50" width="18.34" height="130.80" fill="#26ad81"/>
<rect x="835.19" y="819.50" width="5.45" height="130.80" fill="#1e9d89"/>
<rect x="840.34" y="819.50" width="4.17" height="130.80" fill="#228c8d"/>
<rect x="844.21" y="819.50" width="4.17" height="130.80" fill="#2c738e"/>
<rect x="848.07" y="819.50" width="4.17" height="130.80" fill="#38598c"/>
<rect x="851.94" y="819.50" width="4.17" height="130.80" fill="#443b84"/>
<rect x="855.80" y="819.50" width="6.74" height="130.80" fill="#470d60"/>
<rect x="862.25" y="819.50" width="4.17" height="130.80" fill="#404588"/>
<rect x="866.11" y="819.50" width="4.17" height="130.80" fill="#297b8e"/>
<rect x="869.98" y="819.50" width="4.17" height="130.80" fill="#1e9d89"/>
<rect x="873.84" y="819.50" width="4.17" height="130.80" fill="#26ad81"/>
<rect x="877.71" y="819.50" width="4.17" height="130.80" fill="#3fbc73"/>
<rect x="881.57" y="819.50" width="4.17" height="130.80" fill="#63cb5f"/>
<rect x="885.44" y="819.50" width="8.03" height="130.80" fill="#77d153"/>
<rect x="893.17" y="819.50" width="8.80" height="130.80" fill="#a2da37"/>
<rect x="901.67" y="819.50" width="12.41" height="130.80" fill="#bade28"/>
<rect x="913.78" y="819.50" width="11.90" height="130.80" fill="#a2da37"/>
<rect x="925.38" y="819.50" width="5.45" height="130.80" fill="#8bd646"/>
<rect x="930.53" y="819.50" width="4.17" height="130.80" fill="#63cb5f"/>
<rect x="934.40" y="819.50" width="4.17" height="130.80" fill="#31b57b"/>
<rect x="938.26" y="819.50" width="4.17" height="130.80" fill="#1e9d89"/>
<rect x="942.13" y="819.50" width="4.17" height="130.80" fill="#297b8e"/>
<rect x="945.99" y="819.50" width="3.39" height="130.80" fill="#3c4f8a"/>
<rect x="949.09" y="819.50" width="6.23" height="130.80" fill="#470d60"/>
<rect x="955.01" y="819.50" width="4.17" height="130.80" fill="#38598c"/>
<rect x="958.88" y="819.50" width="4.17" height="130.80" fill="#25838e"/>
<rect x="962.74" y="819.50" width="4.17" height="130.80" fill="#1e9d89"/>
<rect x="966.61" y="819.50" width="5.45" height="130.80" fill="#26ad81"/>
<rect x="971.76" y="819.50" width="5.45" height="130.80" fill="#3fbc73"/>
<rect x="976.91" y="819.50" width="24.78" height="130.80" fill="#50c46a"/>
<rect x="1001.39" y="819.50" width="9.32" height="130.80" fill="#3fbc73"/>
<rect x="1010.41" y="819.50" width="5.45" height="130.80" fill="#31b57b"/>
<rect x="1015.57" y="819.50" width="5.45" height="130.80" fill="#21a585"/>
<rect x="1020.72" y="819.50" width="5.45" height="130.80" fill="#1f948c"/>
<rect x="1025.87" y="819.50" width="5.45" height="130.80" fill="#25838e"/>
<rect x="1031.03" y="819.50" width="5.45" height="130.80" fill="#2f6b8e"/>
<rect x="1036.18" y="819.50" width="5.45" height="130.80" fill="#3c4f8a"/>
<rect x="1041.34" y="819.50" width="4.17" height="130.80" fill="#46307e"/>
<rect x="1045.20" y="819.50" width="6.74" height="130.80" fill="#440154"/>
<rect x="1051.64" y="819.50" width="4.17" height="130.80" fill="#443b84"/>
<rect x="1055.51" y="819.50" width="4.17" height="130.80" fill="#38598c"/>
<rect x="1059.37" y="819.50" width="5.45" height="130.80" fill="#2c738e"/>
<rect x="1064.53" y="819.50" width="5.45" height="130.80" fill="#228c8d"/>
<rect x="1069.68" y="819.50" width="6.74" height="130.80" fill="#1e9d89"/>
<rect x="1076.12" y="819.50" width="8.03" height="130.80" fill="#21a585"/>
<rect x="1083.85" y="819.50" width="6.74" height="130.80" fill="#31b57b"/>
<rect x="1090.30" y="819.50" width="6.74" height="130.80" fill="#3fbc73"/>
<rect x="1096.74" y="819.50" width="9.32" height="130.80" fill="#50c46a"/>
<rect x="1105.76" y="819.50" width="8.03" height="130.80" fill="#63cb5f"/>
<rect x="1113.49" y="819.50" width="26.07" height="130.80" fill="#77d153"/>
<rect x="1139.26" y="819.50" width="5.45" height="130.80" fill="#63cb5f"/>
<rect x="1144.41" y="819.50" width="5.45" height="130.80" fill="#50c46a"/>
<rect x="1149.56" y="819.50" width="5.45" height="130.80" fill="#3fbc73"/>
<rect x="1154.72" y="819.50" width="6.74" height="130.80" fill="#31b57b"/>
<rect x="1161.16" y="819.50" width="6.74" height="130.80" fill="#26ad81"/>
<rect x="1167.60" y="819.50" width="35.09" height="130.80" fill="#21a585"/>
<rect x="1202.39" y="819.50" width="6.74" height="130.80" fill="#1f948c"/>
<rect x="1208.83" y="819.50" width="5.45" height="130.80" fill="#228c8d"/>
<rect x="1213.98" y="819.50" width="5.45" height="130.80" fill="#297b8e"/>
<rect x="1219.14" y="819.50" width="5.45" height="130.80" fill="#2c738e"/>
<rect x="1224.29" y="819.50" width="13.18" height="130.80" fill="#33628d"/>
<rect x="1237.17" y="819.50" width="5.45" height="130.80" fill="#3c4f8a"/>
<rect x="1242.33" y="819.50" width="8.03" height="130.80" fill="#443b84"/>
<rect x="1250.06" y="819.50" width="10.61" height="130.80" fill="#46307e"/>
<rect x="1260.37" y="819.50" width="15.76" height="130.80" fill="#482576"/>
<rect x="1275.83" y="819.50" width="6.74" height="130.80" fill="#46307e"/>
<rect x="1282.27" y="819.50" width="8.18" height="130.80" fill="#404588"/>
<rect x="1290.15" y="819.50" width="8.03" height="130.80" fill="#38598c"/>
<rect x="1297.88" y="819.50" width="11.90" height="130.80" fill="#2f6b8e"/>
<rect x="1309.48" y="819.50" width="13.18" height="130.80" fill="#297b8e"/>
<rect x="1322.36" y="819.50" width="28.65" height="130.80" fill="#25838e"/>
<rect x="1350.71" y="819.50" width="8.03" height="130.80" fill="#297b8e"/>
<rect x="1358.44" y="819.50" width="6.74" height="130.80" fill="#2f6b8e"/>
<rect x="1364.88" y="819.50" width="10.61" height="130.80" fill="#33628d"/>
<rect x="1375.19" y="819.50" width="13.18" height="130.80" fill="#38598c"/>
<rect x="1388.07" y="819.50" width="8.03" height="130.80" fill="#404588"/>
<rect x="1395.80" y="819.50" width="8.03" height="130.80" fill="#443b84"/>
<rect x="1403.53" y="819.50" width="6.74" height="130.80" fill="#481a6c"/>
<rect x="1409.98" y="819.50" width="22.20" height="130.80" fill="#440154"/>
<rect x="1431.88" y="819.50" width="8.03" height="130.80" fill="#470d60"/>
<rect x="1439.61" y="819.50" width="6.74" height="130.80" fill="#482576"/>
<rect x="1446.05" y="819.50" width="9.32" height="130.80" fill="#404588"/>
<rect x="1455.07" y="819.50" width="8.03" height="130.80" fill="#38598c"/>
<rect x="1462.80" y="819.50" width="8.03" height="130.80" fill="#2f6b8e"/>
<rect x="1470.53" y="819.50" width="6.74" height="130.80" fill="#2c738e"/>
<rect x="1476.97" y="819.50" width="9.32" height="130.80" fill="#297b8e"/>
<rect x="1485.99" y="819.50" width="15.76" height="130.80" fill="#25838e"/>
<rect x="1501.45" y="819.50" width="14.47" height="130.80" fill="#228c8d"/>
<rect x="1515.63" y="819.50" width="16.53" height="130.80" fill="#1f948c"/>
<rect x="1531.86" y="819.50" width="16.28" height="130.80" fill="#21a585"/>
<rect x="1547.84" y="819.50" width="45.39" height="130.80" fill="#1e9d89"/>
<rect x="1592.93" y="819.50" width="63.43" height="130.80" fill="#21a585"/>
<rect x="1656.06" y="819.50" width="9.32" height="130.80" fill="#1e9d89"/>
<rect x="1665.08" y="819.50" width="11.90" height="130.80" fill="#1f948c"/>
<rect x="1676.68" y="819.50" width="10.61" height="130.80" fill="#228c8d"/>
<rect x="1686.99" y="819.50" width="8.03" height="130.80" fill="#25838e"/>
<rect x="1694.72" y="819.50" width="8.03" height="130.80" fill="#2c738e"/>
<rect x="1702.45" y="819.50" width="13.18" height="130.80" fill="#33628d"/>
<rect x="1715.33" y="819.50" width="8.03" height="130.80" fill="#3c4f8a"/>
<rect x="1723.06" y="819.50" width="9.32" height="130.80" fill="#443b84"/>
<rect x="1732.08" y="819.50" width="19.63" height="130.80" fill="#482576"/>
<rect x="1751.41" y="819.50" width="13.18" height="130.80" fill="#440154"/>
<rect x="1764.29" y="819.50" width="8.03" height="130.80" fill="#481a6c"/>
<rect x="1772.02" y="819.50" width="6.74" height="130.80" fill="#443b84"/>
<rect x="1778.46" y="819.50" width="8.03" height="130.80" fill="#38598c"/>
<rect x="1786.19" y="819.50" width="10.61" height="130.80" fill="#33628d"/>
<rect x="1796.50" y="819.50" width="14.47" height="130.80" fill="#2c738e"/>
<rect x="1810.67" y="819.50" width="11.63" height="130.80" fill="#297b8e"/>
<rect x="206.50" y="950.00" width="11.32" height="132.80" fill="#3fbc73"/>
<rect x="217.52" y="950.00" width="18.85" height="132.80" fill="#50c46a"/>
<rect x="236.08" y="950.00" width="6.74" height="132.80" fill="#31b57b"/>
<rect x="242.52" y="950.00" width="24.78" height="132.80" fill="#21a585"/>
<rect x="267.00" y="950.00" width="6.74" height="132.80" fill="#1f948c"/>
<rect x="273.44" y="950.00" width="1.73" height="132.80" fill="#228c8d"/>
<rect x="274.87" y="950.00" width="1.73" height="132.80" fill="#25838e"/>
<rect x="276.30" y="950.00" width="1.73" height="132.80" fill="#297b8e"/>
<rect x="277.73" y="950.00" width="1.73" height="132.80" fill="#2c738e"/>
<rect x="279.17" y="950.00" width="1.73" height="132.80" fill="#2f6b8e"/>
<rect x="280.60" y="950.00" width="1.73" height="132.80" fill="#33628d"/>
<rect x="282.03" y="950.00" width="1.73" height="132.80" fill="#38598c"/>
<rect x="283.46" y="950.00" width="1.73" height="132.80" fill="#3c4f8a"/>
<rect x="284.89" y="950.00" width="17.19" height="132.80" fill="#404588"/>
<rect x="301.78" y="950.00" width="6.74" height="132.80" fill="#38598c"/>
<rect x="308.23" y="950.00" width="8.03" height="132.80" fill="#2f6b8e"/>
<rect x="315.96" y="950.00" width="6.74" height="132.80" fill="#25838e"/>
<rect x="322.40" y="950.00" width="5.45" height="132.80" fill="#1f948c"/>
<rect x="327.55" y="950.00" width="4.17" height="132.80" fill="#21a585"/>
<rect x="331.42" y="950.00" width="9.32" height="132.80" fill="#31b57b"/>
<rect x="340.44" y="950.00" width="8.03" height="132.80" fill="#50c46a"/>
<rect x="348.17" y="950.00" width="6.74" height="132.80" fill="#63cb5f"/>
<rect x="354.61" y="950.00" width="24.78" height="132.80" fill="#77d153"/>
<rect x="379.09" y="950.00" width="4.17" height="132.80" fill="#50c46a"/>
<rect x="382.96" y="950.00" width="4.17" height="132.80" fill="#31b57b"/>
<rect x="386.82" y="950.00" width="10.61" height="132.80" fill="#21a585"/>
<rect x="397.13" y="950.00" width="2.88" height="132.80" fill="#31b57b"/>
<rect x="399.70" y="950.00" width="4.17" height="132.80" fill="#63cb5f"/>
<rect x="403.57" y="950.00" width="34.31" height="132.80" fill="#a2da37"/>
<rect x="437.58" y="950.00" width="61.63" height="132.80" fill="#bade28"/>
<rect x="498.91" y="950.00" width="17.56" height="132.80" fill="#a2da37"/>
<rect x="516.18" y="950.00" width="20.91" height="132.80" fill="#8bd646"/>
<rect x="536.79" y="950.00" width="42.30" height="132.80" fill="#77d153"/>
<rect x="578.79" y="950.00" width="13.70" height="132.80" fill="#8bd646"/>
<rect x="592.19" y="950.00" width="8.29" height="132.80" fill="#77d153"/>
<rect x="600.18" y="950.00" width="2.88" height="132.80" fill="#63cb5f"/>
<rect x="602.76" y="950.00" width="2.88" height="132.80" fill="#31b57b"/>
<rect x="605.34" y="950.00" width="3.91" height="132.80" fill="#21a585"/>
<rect x="608.94" y="950.00" width="2.88" height="132.80" fill="#1f948c"/>
<rect x="611.52" y="950.00" width="3.13" height="132.80" fill="#297b8e"/>
<rect x="614.35" y="950.00" width="2.88" height="132.80" fill="#33628d"/>
<rect x="616.93" y="950.00" width="3.91" height="132.80" fill="#404588"/>
<rect x="620.54" y="950.00" width="4.68" height="132.80" fill="#46307e"/>
<rect x="624.92" y="950.00" width="25.04" height="132.80" fill="#481a6c"/>
<rect x="649.66" y="950.00" width="6.48" height="132.80" fill="#470d60"/>
<rect x="655.84" y="950.00" width="4.68" height="132.80" fill="#440154"/>
<rect x="660.22" y="950.00" width="5.71" height="132.80" fill="#481a6c"/>
<rect x="665.63" y="950.00" width="4.68" height="132.80" fill="#443b84"/>
<rect x="670.01" y="950.00" width="4.68" height="132.80" fill="#33628d"/>
<rect x="674.39" y="950.00" width="5.71" height="132.80" fill="#297b8e"/>
<rect x="679.81" y="950.00" width="3.91" height="132.80" fill="#228c8d"/>
<rect x="683.41" y="950.00" width="17.82" height="132.80" fill="#1f948c"/>
<rect x="700.94" y="950.00" width="3.91" height="132.80" fill="#25838e"/>
<rect x="704.54" y="950.00" width="5.71" height="132.80" fill="#2c738e"/>
<rect x="709.96" y="950.00" width="10.87" height="132.80" fill="#33628d"/>
<rect x="720.52" y="950.00" width="5.71" height="132.80" fill="#2c738e"/>
<rect x="725.93" y="950.00" width="3.65" height="132.80" fill="#228c8d"/>
<rect x="729.28" y="950.00" width="3.13" height="132.80" fill="#21a585"/>
<rect x="732.12" y="950.00" width="2.88" height="132.80" fill="#3fbc73"/>
<rect x="734.69" y="950.00" width="6.48" height="132.80" fill="#77d153"/>
<rect x="740.88" y="950.00" width="8.29" height="132.80" fill="#8bd646"/>
<rect x="748.87" y="950.00" width="36.38" height="132.80" fill="#a2da37"/>
<rect x="784.94" y="950.00" width="5.45" height="132.80" fill="#77d153"/>
<rect x="790.09" y="950.00" width="5.45" height="132.80" fill="#50c46a"/>
<rect x="795.25" y="950.00" width="2.88" height="132.80" fill="#1e9d89"/>
<rect x="797.83" y="950.00" width="2.88" height="132.80" fill="#2f6b8e"/>
<rect x="800.40" y="950.00" width="5.45" height="132.80" fill="#46307e"/>
<rect x="805.56" y="950.00" width="2.88" height="132.80" fill="#2f6b8e"/>
<rect x="808.13" y="950.00" width="4.17" height="132.80" fill="#26ad81"/>
<rect x="812.00" y="950.00" width="6.74" height="132.80" fill="#63cb5f"/>
<rect x="818.44" y="950.00" width="15.76" height="132.80" fill="#8bd646"/>
<rect x="833.90" y="950.00" width="8.03" height="132.80" fill="#63cb5f"/>
<rect x="841.63" y="950.00" width="5.45" height="132.80" fill="#3fbc73"/>
<rect x="846.78" y="950.00" width="4.17" height="132.80" fill="#26ad81"/>
<rect x="850.65" y="950.00" width="4.17" height="132.80" fill="#1f948c"/>
<rect x="854.52" y="950.00" width="4.17" height="132.80" fill="#297b8e"/>
<rect x="858.38" y="950.00" width="4.17" height="132.80" fill="#38598c"/>
<rect x="862.25" y="950.00" width="2.10" height="132.80" fill="#46307e"/>
<rect x="864.05" y="950.00" width="4.94" height="132.80" fill="#470d60"/>
<rect x="868.69" y="950.00" width="3.39" height="132.80" fill="#443b84"/>
<rect x="871.78" y="950.00" width="3.65" height="132.80" fill="#2f6b8e"/>
<rect x="875.13" y="950.00" width="4.17" height="132.80" fill="#228c8d"/>
<rect x="879.00" y="950.00" width="5.45" height="132.80" fill="#26ad81"/>
<rect x="884.15" y="950.00" width="4.17" height="132.80" fill="#3fbc73"/>
<rect x="888.01" y="950.00" width="5.45" height="132.80" fill="#63cb5f"/>
<rect x="893.17" y="950.00" width="6.74" height="132.80" fill="#8bd646"/>
<rect x="899.61" y="950.00" width="19.63" height="132.80" fill="#a2da37"/>
<rect x="918.94" y="950.00" width="8.03" height="132.80" fill="#8bd646"/>
<rect x="926.67" y="950.00" width="5.45" height="132.80" fill="#63cb5f"/>
<rect x="931.82" y="950.00" width="5.45" height="132.80" fill="#3fbc73"/>
<rect x="936.97" y="950.00" width="4.17" height="132.80" fill="#26ad81"/>
<rect x="940.84" y="950.00" width="4.17" height="132.80" fill="#1f948c"/>
<rect x="944.70" y="950.00" width="4.17" height="132.80" fill="#2c738e"/>
<rect x="948.57" y="950.00" width="4.17" height="132.80" fill="#404588"/>
<rect x="952.43" y="950.00" width="6.74" height="132.80" fill="#481a6c"/>
<rect x="958.88" y="950.00" width="2.88" height="132.80" fill="#404588"/>
<rect x="961.45" y="950.00" width="2.88" height="132.80" fill="#297b8e"/>
<rect x="964.03" y="950.00" width="3.39" height="132.80" fill="#26ad81"/>
<rect x="967.12" y="950.00" width="4.42" height="132.80" fill="#63cb5f"/>
<rect x="971.25" y="950.00" width="8.55" height="132.80" fill="#8bd646"/>
<rect x="979.49" y="950.00" width="13.18" height="132.80" fill="#a2da37"/>
<rect x="992.38" y="950.00" width="14.47" height="132.80" fill="#8bd646"/>
<rect x="1006.55" y="950.00" width="5.45" height="132.80" fill="#63cb5f"/>
<rect x="1011.70" y="950.00" width="6.74" height="132.80" fill="#3fbc73"/>
<rect x="1018.14" y="950.00" width="6.74" height="132.80" fill="#26ad81"/>
<rect x="1024.59" y="950.00" width="5.45" height="132.80" fill="#1e9d89"/>
<rect x="1029.74" y="950.00" width="5.45" height="132.80" fill="#228c8d"/>
<rect x="1034.89" y="950.00" width="5.45" height="132.80" fill="#297b8e"/>
<rect x="1040.05" y="950.00" width="5.45" height="132.80" fill="#33628d"/>
<rect x="1045.20" y="950.00" width="4.17" height="132.80" fill="#404588"/>
<rect x="1049.07" y="950.00" width="5.45" height="132.80" fill="#470d60"/>
<rect x="1054.22" y="950.00" width="4.17" height="132.80" fill="#404588"/>
<rect x="1058.09" y="950.00" width="5.45" height="132.80" fill="#2f6b8e"/>
<rect x="1063.24" y="950.00" width="6.74" height="132.80" fill="#228c8d"/>
<rect x="1069.68" y="950.00" width="8.03" height="132.80" fill="#1e9d89"/>
<rect x="1077.41" y="950.00" width="17.05" height="132.80" fill="#21a585"/>
<rect x="1094.16" y="950.00" width="27.36" height="132.80" fill="#1e9d89"/>
<rect x="1121.22" y="950.00" width="9.32" height="132.80" fill="#21a585"/>
<rect x="1130.24" y="950.00" width="5.45" height="132.80" fill="#1f948c"/>
<rect x="1135.39" y="950.00" width="5.45" height="132.80" fill="#25838e"/>
<rect x="1140.54" y="950.00" width="9.32" height="132.80" fill="#297b8e"/>
<rect x="1149.56" y="950.00" width="28.65" height="132.80" fill="#2c738e"/>
<rect x="1177.91" y="950.00" width="5.45" height="132.80" fill="#2f6b8e"/>
<rect x="1183.06" y="950.00" width="15.76" height="132.80" fill="#38598c"/>
<rect x="1198.52" y="950.00" width="4.17" height="132.80" fill="#443b84"/>
<rect x="1202.39" y="950.00" width="22.20" height="132.80" fill="#470d60"/>
<rect x="1224.29" y="950.00" width="10.61" height="132.80" fill="#482576"/>
<rect x="1234.60" y="950.00" width="10.61" height="132.80" fill="#443b84"/>
<rect x="1244.91" y="950.00" width="5.45" height="132.80" fill="#481a6c"/>
<rect x="1250.06" y="950.00" width="13.18" height="132.80" fill="#440154"/>
<rect x="1262.94" y="950.00" width="25.45" height="132.80" fill="#470d60"/>
<rect x="1288.09" y="950.00" width="4.94" height="132.80" fill="#404588"/>
<rect x="1292.73" y="950.00" width="18.34" height="132.80" fill="#33628d"/>
<rect x="1310.77" y="950.00" width="6.74" height="132.80" fill="#2f6b8e"/>
<rect x="1317.21" y="950.00" width="10.61" height="132.80" fill="#2c738e"/>
<rect x="1327.52" y="950.00" width="5.45" height="132.80" fill="#33628d"/>
<rect x="1332.67" y="950.00" width="11.90" height="132.80" fill="#38598c"/>
<rect x="1344.27" y="950.00" width="6.74" height="132.80" fill="#2f6b8e"/>
<rect x="1350.71" y="950.00" width="9.32" height="132.80" fill="#25838e"/>
<rect x="1359.73" y="950.00" width="5.45" height="132.80" fill="#2c738e"/>
<rect x="1364.88" y="950.00" width="6.74" height="132.80" fill="#33628d"/>
<rect x="1371.32" y="950.00" width="6.74" height="132.80" fill="#3c4f8a"/>
<rect x="1377.77" y="950.00" width="6.74" height="132.80" fill="#443b84"/>
<rect x="1384.21" y="950.00" width="8.03" height="132.80" fill="#482576"/>
<rect x="1391.94" y="950.00" width="11.38" height="132.80" fill="#470d60"/>
<rect x="1403.02" y="950.00" width="4.68" height="132.80" fill="#46307e"/>
<rect x="1407.40" y="950.00" width="6.74" height="132.80" fill="#443b84"/>
<rect x="1413.84" y="950.00" width="20.91" height="132.80" fill="#482576"/>
<rect x="1434.46" y="950.00" width="11.90" height="132.80" fill="#470d60"/>
<rect x="1446.05" y="950.00" width="6.74" height="132.80" fill="#482576"/>
<rect x="1452.49" y="950.00" width="6.74" height="132.80" fill="#404588"/>
<rect x="1458.94" y="950.00" width="11.90" height="132.80" fill="#33628d"/>
<rect x="1470.53" y="950.00" width="9.32" height="132.80" fill="#2f6b8e"/>
<rect x="1479.55" y="950.00" width="15.76" height="132.80" fill="#2c738e"/>
<rect x="1495.01" y="950.00" width="9.32" height="132.80" fill="#297b8e"/>
<rect x="1504.03" y="950.00" width="18.34" height="132.80" fill="#25838e"/>
<rect x="1522.07" y="950.00" width="9.32" height="132.80" fill="#228c8d"/>
<rect x="1531.09" y="950.00" width="19.63" height="132.80" fill="#1f948c"/>
<rect x="1550.41" y="950.00" width="6.74" height="132.80" fill="#228c8d"/>
<rect x="1556.86" y="950.00" width="18.34" height="132.80" fill="#25838e"/>
<rect x="1574.89" y="950.00" width="5.45" height="132.80" fill="#2c738e"/>
<rect x="1580.05" y="950.00" width="5.45" height="132.80" fill="#33628d"/>
<rect x="1585.20" y="950.00" width="13.18" height="132.80" fill="#404588"/>
<rect x="1598.09" y="950.00" width="5.45" height="132.80" fill="#38598c"/>
<rect x="1603.24" y="950.00" width="6.74" height="132.80" fill="#2c738e"/>
<rect x="1609.68" y="950.00" width="8.03" height="132.80" fill="#297b8e"/>
<rect x="1617.41" y="950.00" width="5.45" height="132.80" fill="#2c738e"/>
<rect x="1622.57" y="950.00" width="8.03" height="132.80" fill="#297b8e"/>
<rect x="1630.30" y="950.00" width="5.45" height="132.80" fill="#228c8d"/>
<rect x="1635.45" y="950.00" width="11.90" height="132.80" fill="#1f948c"/>
<rect x="1647.04" y="950.00" width="14.47" height="132.80" fill="#228c8d"/>
<rect x="1661.22" y="950.00" width="26.07" height="132.80" fill="#25838e"/>
<rect x="1686.99" y="950.00" width="10.61" height="132.80" fill="#2c738e"/>
<rect x="1697.29" y="950.00" width="6.74" height="132.80" fill="#33628d"/>
<rect x="1703.74" y="950.00" width="9.32" height="132.80" fill="#443b84"/>
<rect x="1712.75" y="950.00" width="14.47" height="132.80" fill="#440154"/>
<rect x="1726.93" y="950.00" width="5.45" height="132.80" fill="#46307e"/>
<rect x="1732.08" y="950.00" width="6.74" height="132.80" fill="#33628d"/>
<rect x="1738.52" y="950.00" width="8.03" height="132.80" fill="#297b8e"/>
<rect x="1746.25" y="950.00" width="5.45" height="132.80" fill="#2f6b8e"/>
<rect x="1751.41" y="950.00" width="4.17" height="132.80" fill="#443b84"/>
<rect x="1755.27" y="950.00" width="5.45" height="132.80" fill="#470d60"/>
<rect x="1760.43" y="950.00" width="4.17" height="132.80" fill="#38598c"/>
<rect x="1764.29" y="950.00" width="20.91" height="132.80" fill="#228c8d"/>
<rect x="1784.91" y="950.00" width="6.74" height="132.80" fill="#297b8e"/>
<rect x="1791.35" y="950.00" width="2.88" height="132.80" fill="#404588"/>
<rect x="1793.92" y="950.00" width="4.17" height="132.80" fill="#470d60"/>
<rect x="1797.79" y="950.00" width="2.88" height="132.80" fill="#404588"/>
<rect x="1800.37" y="950.00" width="10.61" height="132.80" fill="#2f6b8e"/>
<rect x="1810.67" y="950.00" width="11.63" height="132.80" fill="#297b8e"/>
<rect x="206.50" y="1082.50" width="10.28" height="131.80" fill="#3fbc73"/>
<rect x="216.48" y="1082.50" width="8.05" height="131.80" fill="#50c46a"/>
<rect x="224.23" y="1082.50" width="2.24" height="131.80" fill="#26ad81"/>
<rect x="226.17" y="1082.50" width="13.87" height="131.80" fill="#228c8d"/>
<rect x="239.74" y="1082.50" width="3.21" height="131.80" fill="#1f948c"/>
<rect x="242.65" y="1082.50" width="8.44" height="131.80" fill="#21a585"/>
<rect x="250.79" y="1082.50" width="3.79" height="131.80" fill="#1e9d89"/>
<rect x="254.28" y="1082.50" width="12.90" height="131.80" fill="#228c8d"/>
<rect x="266.88" y="1082.50" width="4.18" height="131.80" fill="#1f948c"/>
<rect x="270.76" y="1082.50" width="3.21" height="131.80" fill="#297b8e"/>
<rect x="273.66" y="1082.50" width="3.21" height="131.80" fill="#404588"/>
<rect x="276.57" y="1082.50" width="3.21" height="131.80" fill="#482576"/>
<rect x="279.48" y="1082.50" width="8.05" height="131.80" fill="#470d60"/>
<rect x="287.23" y="1082.50" width="4.18" height="131.80" fill="#481a6c"/>
<rect x="291.11" y="1082.50" width="4.18" height="131.80" fill="#3c4f8a"/>
<rect x="294.99" y="1082.50" width="9.99" height="131.80" fill="#33628d"/>
<rect x="304.68" y="1082.50" width="4.18" height="131.80" fill="#38598c"/>
<rect x="308.56" y="1082.50" width="8.05" height="131.80" fill="#443b84"/>
<rect x="316.31" y="1082.50" width="4.18" height="131.80" fill="#3c4f8a"/>
<rect x="320.19" y="1082.50" width="3.21" height="131.80" fill="#2f6b8e"/>
<rect x="323.10" y="1082.50" width="3.21" height="131.80" fill="#1f948c"/>
<rect x="326.00" y="1082.50" width="3.21" height="131.80" fill="#26ad81"/>
<rect x="328.91" y="1082.50" width="24.53" height="131.80" fill="#3fbc73"/>
<rect x="353.14" y="1082.50" width="4.18" height="131.80" fill="#50c46a"/>
<rect x="357.02" y="1082.50" width="7.08" height="131.80" fill="#63cb5f"/>
<rect x="363.81" y="1082.50" width="6.70" height="131.80" fill="#8bd646"/>
<rect x="370.20" y="1082.50" width="9.41" height="131.80" fill="#77d153"/>
<rect x="379.31" y="1082.50" width="3.21" height="131.80" fill="#26ad81"/>
<rect x="382.22" y="1082.50" width="7.08" height="131.80" fill="#3c4f8a"/>
<rect x="389.01" y="1082.50" width="3.21" height="131.80" fill="#2c738e"/>
<rect x="391.91" y="1082.50" width="7.08" height="131.80" fill="#228c8d"/>
<rect x="398.70" y="1082.50" width="4.18" height="131.80" fill="#297b8e"/>
<rect x="402.58" y="1082.50" width="2.82" height="131.80" fill="#440154"/>
<rect x="405.10" y="1082.50" width="3.01" height="131.80" fill="#21a585"/>
<rect x="407.81" y="1082.50" width="41.59" height="131.80" fill="#a2da37"/>
<rect x="449.10" y="1082.50" width="49.73" height="131.80" fill="#bade28"/>
<rect x="498.53" y="1082.50" width="13.87" height="131.80" fill="#a2da37"/>
<rect x="512.10" y="1082.50" width="14.84" height="131.80" fill="#8bd646"/>
<rect x="526.64" y="1082.50" width="19.69" height="131.80" fill="#77d153"/>
<rect x="546.03" y="1082.50" width="11.93" height="131.80" fill="#63cb5f"/>
<rect x="557.66" y="1082.50" width="7.08" height="131.80" fill="#50c46a"/>
<rect x="564.44" y="1082.50" width="5.15" height="131.80" fill="#3fbc73"/>
<rect x="569.29" y="1082.50" width="5.15" height="131.80" fill="#63cb5f"/>
<rect x="574.14" y="1082.50" width="5.15" height="131.80" fill="#77d153"/>
<rect x="578.98" y="1082.50" width="9.99" height="131.80" fill="#8bd646"/>
<rect x="588.68" y="1082.50" width="5.15" height="131.80" fill="#77d153"/>
<rect x="593.52" y="1082.50" width="4.18" height="131.80" fill="#50c46a"/>
<rect x="597.40" y="1082.50" width="5.15" height="131.80" fill="#3fbc73"/>
<rect x="602.25" y="1082.50" width="3.05" height="131.80" fill="#26ad81"/>
<rect x="605.00" y="1082.50" width="4.18" height="131.80" fill="#228c8d"/>
<rect x="608.88" y="1082.50" width="4.18" height="131.80" fill="#2f6b8e"/>
<rect x="612.75" y="1082.50" width="4.56" height="131.80" fill="#481a6c"/>
<rect x="617.02" y="1082.50" width="10.57" height="131.80" fill="#482576"/>
<rect x="627.29" y="1082.50" width="9.02" height="131.80" fill="#470d60"/>
<rect x="636.02" y="1082.50" width="3.21" height="131.80" fill="#46307e"/>
<rect x="638.92" y="1082.50" width="14.84" height="131.80" fill="#443b84"/>
<rect x="653.46" y="1082.50" width="6.12" height="131.80" fill="#46307e"/>
<rect x="659.28" y="1082.50" width="7.08" height="131.80" fill="#440154"/>
<rect x="666.06" y="1082.50" width="5.15" height="131.80" fill="#482576"/>
<rect x="670.91" y="1082.50" width="4.18" height="131.80" fill="#38598c"/>
<rect x="674.79" y="1082.50" width="4.18" height="131.80" fill="#297b8e"/>
<rect x="678.66" y="1082.50" width="5.15" height="131.80" fill="#1e9d89"/>
<rect x="683.51" y="1082.50" width="15.81" height="131.80" fill="#31b57b"/>
<rect x="699.02" y="1082.50" width="3.21" height="131.80" fill="#1e9d89"/>
<rect x="701.93" y="1082.50" width="3.21" height="131.80" fill="#2f6b8e"/>
<rect x="704.83" y="1082.50" width="4.18" height="131.80" fill="#481a6c"/>
<rect x="708.71" y="1082.50" width="12.90" height="131.80" fill="#482576"/>
<rect x="721.31" y="1082.50" width="5.15" height="131.80" fill="#470d60"/>
<rect x="726.16" y="1082.50" width="4.18" height="131.80" fill="#38598c"/>
<rect x="730.04" y="1082.50" width="5.15" height="131.80" fill="#2c738e"/>
<rect x="734.88" y="1082.50" width="4.18" height="131.80" fill="#1f948c"/>
<rect x="738.76" y="1082.50" width="4.18" height="131.80" fill="#31b57b"/>
<rect x="742.64" y="1082.50" width="6.12" height="131.80" fill="#63cb5f"/>
<rect x="748.45" y="1082.50" width="6.12" height="131.80" fill="#77d153"/>
<rect x="754.27" y="1082.50" width="36.16" height="131.80" fill="#a2da37"/>
<rect x="790.13" y="1082.50" width="6.12" height="131.80" fill="#77d153"/>
<rect x="795.95" y="1082.50" width="3.21" height="131.80" fill="#31b57b"/>
<rect x="798.85" y="1082.50" width="2.63" height="131.80" fill="#25838e"/>
<rect x="801.18" y="1082.50" width="2.82" height="131.80" fill="#443b84"/>
<rect x="803.70" y="1082.50" width="3.21" height="131.80" fill="#297b8e"/>
<rect x="806.61" y="1082.50" width="3.21" height="131.80" fill="#26ad81"/>
<rect x="809.52" y="1082.50" width="4.18" height="131.80" fill="#50c46a"/>
<rect x="813.39" y="1082.50" width="9.99" height="131.80" fill="#77d153"/>
<rect x="823.09" y="1082.50" width="14.84" height="131.80" fill="#8bd646"/>
<rect x="837.62" y="1082.50" width="5.15" height="131.80" fill="#63cb5f"/>
<rect x="842.47" y="1082.50" width="5.15" height="131.80" fill="#3fbc73"/>
<rect x="847.32" y="1082.50" width="4.18" height="131.80" fill="#26ad81"/>
<rect x="851.19" y="1082.50" width="4.18" height="131.80" fill="#1f948c"/>
<rect x="855.07" y="1082.50" width="5.15" height="131.80" fill="#25838e"/>
<rect x="859.92" y="1082.50" width="4.18" height="131.80" fill="#2f6b8e"/>
<rect x="863.79" y="1082.50" width="3.21" height="131.80" fill="#404588"/>
<rect x="866.70" y="1082.50" width="5.15" height="131.80" fill="#470d60"/>
<rect x="871.55" y="1082.50" width="3.21" height="131.80" fill="#404588"/>
<rect x="874.46" y="1082.50" width="4.18" height="131.80" fill="#297b8e"/>
<rect x="878.33" y="1082.50" width="4.18" height="131.80" fill="#1e9d89"/>
<rect x="882.21" y="1082.50" width="6.12" height="131.80" fill="#26ad81"/>
<rect x="888.03" y="1082.50" width="4.18" height="131.80" fill="#31b57b"/>
<rect x="891.90" y="1082.50" width="4.18" height="131.80" fill="#50c46a"/>
<rect x="895.78" y="1082.50" width="6.12" height="131.80" fill="#77d153"/>
<rect x="901.60" y="1082.50" width="17.75" height="131.80" fill="#a2da37"/>
<rect x="919.04" y="1082.50" width="6.12" height="131.80" fill="#8bd646"/>
<rect x="924.86" y="1082.50" width="5.15" height="131.80" fill="#63cb5f"/>
<rect x="929.70" y="1082.50" width="5.15" height="131.80" fill="#3fbc73"/>
<rect x="934.55" y="1082.50" width="4.18" height="131.80" fill="#21a585"/>
<rect x="938.43" y="1082.50" width="5.15" height="131.80" fill="#228c8d"/>
<rect x="943.27" y="1082.50" width="6.12" height="131.80" fill="#297b8e"/>
<rect x="949.09" y="1082.50" width="3.21" height="131.80" fill="#33628d"/>
<rect x="952.00" y="1082.50" width="3.21" height="131.80" fill="#443b84"/>
<rect x="954.91" y="1082.50" width="5.15" height="131.80" fill="#470d60"/>
<rect x="959.75" y="1082.50" width="4.18" height="131.80" fill="#404588"/>
<rect x="963.63" y="1082.50" width="4.18" height="131.80" fill="#2f6b8e"/>
<rect x="967.51" y="1082.50" width="3.21" height="131.80" fill="#1e9d89"/>
<rect x="970.41" y="1082.50" width="3.21" height="131.80" fill="#50c46a"/>
<rect x="973.32" y="1082.50" width="4.18" height="131.80" fill="#8bd646"/>
<rect x="977.20" y="1082.50" width="5.15" height="131.80" fill="#bade28"/>
<rect x="982.04" y="1082.50" width="12.90" height="131.80" fill="#a2da37"/>
<rect x="994.65" y="1082.50" width="8.05" height="131.80" fill="#8bd646"/>
<rect x="1002.40" y="1082.50" width="7.90" height="131.80" fill="#77d153"/>
<rect x="1010.00" y="1082.50" width="5.15" height="131.80" fill="#63cb5f"/>
<rect x="1014.85" y="1082.50" width="4.18" height="131.80" fill="#3fbc73"/>
<rect x="1018.72" y="1082.50" width="5.15" height="131.80" fill="#26ad81"/>
<rect x="1023.57" y="1082.50" width="6.12" height="131.80" fill="#1e9d89"/>
<rect x="1029.39" y="1082.50" width="8.05" height="131.80" fill="#228c8d"/>
<rect x="1037.14" y="1082.50" width="9.02" height="131.80" fill="#297b8e"/>
<rect x="1045.86" y="1082.50" width="5.15" height="131.80" fill="#38598c"/>
<rect x="1050.71" y="1082.50" width="3.21" height="131.80" fill="#404588"/>
<rect x="1053.62" y="1082.50" width="3.21" height="131.80" fill="#440154"/>
<rect x="1056.52" y="1082.50" width="3.21" height="131.80" fill="#3c4f8a"/>
<rect x="1059.43" y="1082.50" width="3.21" height="131.80" fill="#297b8e"/>
<rect x="1062.34" y="1082.50" width="9.02" height="131.80" fill="#1f948c"/>
<rect x="1071.06" y="1082.50" width="9.99" height="131.80" fill="#21a585"/>
<rect x="1080.76" y="1082.50" width="12.90" height="131.80" fill="#1f948c"/>
<rect x="1093.36" y="1082.50" width="9.02" height="131.80" fill="#228c8d"/>
<rect x="1102.08" y="1082.50" width="16.78" height="131.80" fill="#297b8e"/>
<rect x="1118.56" y="1082.50" width="15.81" height="131.80" fill="#25838e"/>
<rect x="1134.07" y="1082.50" width="8.05" height="131.80" fill="#2c738e"/>
<rect x="1141.82" y="1082.50" width="9.99" height="131.80" fill="#2f6b8e"/>
<rect x="1151.51" y="1082.50" width="8.05" height="131.80" fill="#38598c"/>
<rect x="1159.27" y="1082.50" width="11.93" height="131.80" fill="#3c4f8a"/>
<rect x="1170.90" y="1082.50" width="6.12" height="131.80" fill="#38598c"/>
<rect x="1176.71" y="1082.50" width="4.18" height="131.80" fill="#443b84"/>
<rect x="1180.59" y="1082.50" width="9.99" height="131.80" fill="#482576"/>
<rect x="1190.28" y="1082.50" width="17.75" height="131.80" fill="#470d60"/>
<rect x="1207.73" y="1082.50" width="7.08" height="131.80" fill="#440154"/>
<rect x="1214.52" y="1082.50" width="4.18" height="131.80" fill="#470d60"/>
<rect x="1218.39" y="1082.50" width="9.02" height="131.80" fill="#482576"/>
<rect x="1227.12" y="1082.50" width="5.15" height="131.80" fill="#443b84"/>
<rect x="1231.96" y="1082.50" width="8.05" height="131.80" fill="#404588"/>
<rect x="1239.72" y="1082.50" width="4.18" height="131.80" fill="#46307e"/>
<rect x="1243.59" y="1082.50" width="5.15" height="131.80" fill="#481a6c"/>
<rect x="1248.44" y="1082.50" width="15.81" height="131.80" fill="#440154"/>
<rect x="1263.95" y="1082.50" width="5.15" height="131.80" fill="#470d60"/>
<rect x="1268.79" y="1082.50" width="16.78" height="131.80" fill="#482576"/>
<rect x="1285.27" y="1082.50" width="4.18" height="131.80" fill="#470d60"/>
<rect x="1289.15" y="1082.50" width="4.18" height="131.80" fill="#3c4f8a"/>
<rect x="1293.03" y="1082.50" width="9.99" height="131.80" fill="#33628d"/>
<rect x="1302.72" y="1082.50" width="9.99" height="131.80" fill="#3c4f8a"/>
<rect x="1312.41" y="1082.50" width="11.93" height="131.80" fill="#443b84"/>
<rect x="1324.04" y="1082.50" width="15.81" height="131.80" fill="#482576"/>
<rect x="1339.55" y="1082.50" width="4.18" height="131.80" fill="#404588"/>
<rect x="1343.43" y="1082.50" width="8.05" height="131.80" fill="#38598c"/>
<rect x="1351.18" y="1082.50" width="8.05" height="131.80" fill="#3c4f8a"/>
<rect x="1358.94" y="1082.50" width="17.75" height="131.80" fill="#33628d"/>
<rect x="1376.38" y="1082.50" width="6.12" height="131.80" fill="#404588"/>
<rect x="1382.20" y="1082.50" width="4.18" height="131.80" fill="#482576"/>
<rect x="1386.08" y="1082.50" width="11.93" height="131.80" fill="#470d60"/>
<rect x="1397.71" y="1082.50" width="11.93" height="131.80" fill="#481a6c"/>
<rect x="1409.34" y="1082.50" width="9.84" height="131.80" fill="#470d60"/>
<rect x="1418.88" y="1082.50" width="7.08" height="131.80" fill="#481a6c"/>
<rect x="1425.66" y="1082.50" width="14.84" height="131.80" fill="#482576"/>
<rect x="1440.20" y="1082.50" width="4.18" height="131.80" fill="#470d60"/>
<rect x="1444.08" y="1082.50" width="4.18" height="131.80" fill="#443b84"/>
<rect x="1447.96" y="1082.50" width="9.02" height="131.80" fill="#404588"/>
<rect x="1456.68" y="1082.50" width="4.18" height="131.80" fill="#443b84"/>
<rect x="1460.56" y="1082.50" width="9.99" height="131.80" fill="#482576"/>
<rect x="1470.25" y="1082.50" width="4.18" height="131.80" fill="#3c4f8a"/>
<rect x="1474.13" y="1082.50" width="11.93" height="131.80" fill="#2f6b8e"/>
<rect x="1485.76" y="1082.50" width="16.78" height="131.80" fill="#38598c"/>
<rect x="1502.23" y="1082.50" width="8.05" height="131.80" fill="#33628d"/>
<rect x="1509.99" y="1082.50" width="5.15" height="131.80" fill="#2c738e"/>
<rect x="1514.83" y="1082.50" width="9.02" height="131.80" fill="#25838e"/>
<rect x="1523.56" y="1082.50" width="8.05" height="131.80" fill="#2c738e"/>
<rect x="1531.31" y="1082.50" width="8.05" height="131.80" fill="#2f6b8e"/>
<rect x="1539.07" y="1082.50" width="6.12" height="131.80" fill="#2c738e"/>
<rect x="1544.88" y="1082.50" width="3.21" height="131.80" fill="#38598c"/>
<rect x="1547.79" y="1082.50" width="11.93" height="131.80" fill="#443b84"/>
<rect x="1559.42" y="1082.50" width="4.18" height="131.80" fill="#33628d"/>
<rect x="1563.30" y="1082.50" width="12.90" height="131.80" fill="#228c8d"/>
<rect x="1575.90" y="1082.50" width="5.15" height="131.80" fill="#297b8e"/>
<rect x="1580.74" y="1082.50" width="5.15" height="131.80" fill="#470d60"/>
<rect x="1585.59" y="1082.50" width="4.18" height="131.80" fill="#443b84"/>
<rect x="1589.47" y="1082.50" width="6.12" height="131.80" fill="#404588"/>
<rect x="1595.28" y="1082.50" width="3.21" height="131.80" fill="#482576"/>
<rect x="1598.19" y="1082.50" width="5.15" height="131.80" fill="#470d60"/>
<rect x="1603.04" y="1082.50" width="3.21" height="131.80" fill="#404588"/>
<rect x="1605.95" y="1082.50" width="5.15" height="131.80" fill="#2c738e"/>
<rect x="1610.79" y="1082.50" width="6.12" height="131.80" fill="#2f6b8e"/>
<rect x="1616.61" y="1082.50" width="17.75" height="131.80" fill="#38598c"/>
<rect x="1634.05" y="1082.50" width="5.15" height="131.80" fill="#2c738e"/>
<rect x="1638.90" y="1082.50" width="9.02" height="131.80" fill="#228c8d"/>
<rect x="1647.62" y="1082.50" width="5.15" height="131.80" fill="#297b8e"/>
<rect x="1652.47" y="1082.50" width="5.15" height="131.80" fill="#2f6b8e"/>
<rect x="1657.32" y="1082.50" width="9.99" height="131.80" fill="#33628d"/>
<rect x="1667.01" y="1082.50" width="6.12" height="131.80" fill="#2c738e"/>
<rect x="1672.83" y="1082.50" width="3.21" height="131.80" fill="#38598c"/>
<rect x="1675.73" y="1082.50" width="7.08" height="131.80" fill="#443b84"/>
<rect x="1682.52" y="1082.50" width="4.18" height="131.80" fill="#38598c"/>
<rect x="1686.39" y="1082.50" width="8.05" height="131.80" fill="#2c738e"/>
<rect x="1694.15" y="1082.50" width="8.05" height="131.80" fill="#2f6b8e"/>
<rect x="1701.90" y="1082.50" width="6.12" height="131.80" fill="#404588"/>
<rect x="1707.72" y="1082.50" width="6.12" height="131.80" fill="#482576"/>
<rect x="1713.53" y="1082.50" width="9.02" height="131.80" fill="#440154"/>
<rect x="1722.26" y="1082.50" width="7.08" height="131.80" fill="#481a6c"/>
<rect x="1729.04" y="1082.50" width="9.02" height="131.80" fill="#46307e"/>
<rect x="1737.77" y="1082.50" width="4.18" height="131.80" fill="#404588"/>
<rect x="1741.64" y="1082.50" width="4.18" height="131.80" fill="#2f6b8e"/>
<rect x="1745.52" y="1082.50" width="5.15" height="131.80" fill="#3c4f8a"/>
<rect x="1750.37" y="1082.50" width="9.02" height="131.80" fill="#404588"/>
<rect x="1759.09" y="1082.50" width="3.21" height="131.80" fill="#481a6c"/>
<rect x="1762.00" y="1082.50" width="3.21" height="131.80" fill="#440154"/>
<rect x="1764.91" y="1082.50" width="5.15" height="131.80" fill="#2f6b8e"/>
<rect x="1769.75" y="1082.50" width="4.18" height="131.80" fill="#21a585"/>
<rect x="1773.63" y="1082.50" width="11.93" height="131.80" fill="#1f948c"/>
<rect x="1785.26" y="1082.50" width="9.99" height="131.80" fill="#25838e"/>
<rect x="1794.95" y="1082.50" width="5.15" height="131.80" fill="#33628d"/>
<rect x="1799.80" y="1082.50" width="3.21" height="131.80" fill="#443b84"/>
<rect x="1802.71" y="1082.50" width="7.08" height="131.80" fill="#481a6c"/>
<rect x="1809.49" y="1082.50" width="3.21" height="131.80" fill="#38598c"/>
<rect x="1812.40" y="1082.50" width="9.90" height="131.80" fill="#297b8e"/>
<rect x="208.72" y="1214.00" width="8.05" height="65.00" fill="#3fbc73"/>
<rect x="216.48" y="1214.00" width="3.21" height="65.00" fill="#2c738e"/>
<rect x="219.39" y="1214.00" width="5.15" height="65.00" fill="#297b8e"/>
<rect x="224.23" y="1214.00" width="22.59" height="65.00" fill="#228c8d"/>
<rect x="246.52" y="1214.00" width="3.21" height="65.00" fill="#1f948c"/>
<rect x="249.43" y="1214.00" width="2.24" height="65.00" fill="#21a585"/>
<rect x="251.37" y="1214.00" width="4.18" height="65.00" fill="#228c8d"/>
<rect x="255.25" y="1214.00" width="5.15" height="65.00" fill="#25838e"/>
<rect x="260.09" y="1214.00" width="4.18" height="65.00" fill="#2c738e"/>
<rect x="263.97" y="1214.00" width="7.08" height="65.00" fill="#25838e"/>
<rect x="270.76" y="1214.00" width="3.21" height="65.00" fill="#2f6b8e"/>
<rect x="273.66" y="1214.00" width="13.87" height="65.00" fill="#470d60"/>
<rect x="287.23" y="1214.00" width="3.21" height="65.00" fill="#46307e"/>
<rect x="290.14" y="1214.00" width="3.21" height="65.00" fill="#297b8e"/>
<rect x="293.05" y="1214.00" width="8.05" height="65.00" fill="#228c8d"/>
<rect x="300.80" y="1214.00" width="3.21" height="65.00" fill="#297b8e"/>
<rect x="303.71" y="1214.00" width="2.24" height="65.00" fill="#404588"/>
<rect x="305.65" y="1214.00" width="10.96" height="65.00" fill="#470d60"/>
<rect x="316.31" y="1214.00" width="4.18" height="65.00" fill="#482576"/>
<rect x="320.19" y="1214.00" width="3.21" height="65.00" fill="#38598c"/>
<rect x="323.10" y="1214.00" width="3.21" height="65.00" fill="#228c8d"/>
<rect x="326.00" y="1214.00" width="3.21" height="65.00" fill="#21a585"/>
<rect x="328.91" y="1214.00" width="22.59" height="65.00" fill="#31b57b"/>
<rect x="351.21" y="1214.00" width="4.18" height="65.00" fill="#3fbc73"/>
<rect x="355.08" y="1214.00" width="3.21" height="65.00" fill="#63cb5f"/>
<rect x="357.99" y="1214.00" width="6.12" height="65.00" fill="#77d153"/>
<rect x="363.81" y="1214.00" width="6.70" height="65.00" fill="#8bd646"/>
<rect x="370.20" y="1214.00" width="5.53" height="65.00" fill="#77d153"/>
<rect x="375.44" y="1214.00" width="4.18" height="65.00" fill="#50c46a"/>
<rect x="379.31" y="1214.00" width="4.18" height="65.00" fill="#21a585"/>
<rect x="383.19" y="1214.00" width="4.18" height="65.00" fill="#481a6c"/>
<rect x="387.07" y="1214.00" width="5.15" height="65.00" fill="#228c8d"/>
<rect x="391.91" y="1214.00" width="10.96" height="65.00" fill="#21a585"/>
<rect x="402.58" y="1214.00" width="3.21" height="65.00" fill="#297b8e"/>
<rect x="405.48" y="1214.00" width="2.63" height="65.00" fill="#38598c"/>
<rect x="407.81" y="1214.00" width="11.54" height="65.00" fill="#a2da37"/>
<rect x="419.05" y="1214.00" width="13.87" height="65.00" fill="#8bd646"/>
<rect x="432.62" y="1214.00" width="20.65" height="65.00" fill="#a2da37"/>
<rect x="452.98" y="1214.00" width="45.86" height="65.00" fill="#bade28"/>
<rect x="498.53" y="1214.00" width="10.96" height="65.00" fill="#a2da37"/>
<rect x="509.20" y="1214.00" width="14.84" height="65.00" fill="#8bd646"/>
<rect x="523.74" y="1214.00" width="17.75" height="65.00" fill="#77d153"/>
<rect x="541.18" y="1214.00" width="12.90" height="65.00" fill="#63cb5f"/>
<rect x="553.78" y="1214.00" width="5.15" height="65.00" fill="#3fbc73"/>
<rect x="558.63" y="1214.00" width="4.18" height="65.00" fill="#26ad81"/>
<rect x="562.51" y="1214.00" width="6.12" height="65.00" fill="#21a585"/>
<rect x="568.32" y="1214.00" width="5.15" height="65.00" fill="#31b57b"/>
<rect x="573.17" y="1214.00" width="2.24" height="65.00" fill="#63cb5f"/>
<rect x="575.11" y="1214.00" width="6.12" height="65.00" fill="#a2da37"/>
<rect x="580.92" y="1214.00" width="3.21" height="65.00" fill="#bade28"/>
<rect x="583.83" y="1214.00" width="5.15" height="65.00" fill="#8bd646"/>
<rect x="588.68" y="1214.00" width="4.18" height="65.00" fill="#63cb5f"/>
<rect x="592.55" y="1214.00" width="4.18" height="65.00" fill="#3fbc73"/>
<rect x="596.43" y="1214.00" width="4.18" height="65.00" fill="#21a585"/>
<rect x="600.31" y="1214.00" width="4.99" height="65.00" fill="#228c8d"/>
<rect x="605.00" y="1214.00" width="4.18" height="65.00" fill="#297b8e"/>
<rect x="608.88" y="1214.00" width="4.18" height="65.00" fill="#33628d"/>
<rect x="612.75" y="1214.00" width="4.56" height="65.00" fill="#481a6c"/>
<rect x="617.02" y="1214.00" width="14.45" height="65.00" fill="#404588"/>
<rect x="631.17" y="1214.00" width="5.15" height="65.00" fill="#470d60"/>
<rect x="636.02" y="1214.00" width="9.02" height="65.00" fill="#404588"/>
<rect x="644.74" y="1214.00" width="6.12" height="65.00" fill="#38598c"/>
<rect x="650.56" y="1214.00" width="9.02" height="65.00" fill="#443b84"/>
<rect x="659.28" y="1214.00" width="7.08" height="65.00" fill="#470d60"/>
<rect x="666.06" y="1214.00" width="5.15" height="65.00" fill="#482576"/>
<rect x="670.91" y="1214.00" width="4.18" height="65.00" fill="#38598c"/>
<rect x="674.79" y="1214.00" width="4.18" height="65.00" fill="#25838e"/>
<rect x="678.66" y="1214.00" width="5.15" height="65.00" fill="#21a585"/>
<rect x="683.51" y="1214.00" width="8.05" height="65.00" fill="#3fbc73"/>
<rect x="691.26" y="1214.00" width="8.05" height="65.00" fill="#26ad81"/>
<rect x="699.02" y="1214.00" width="5.15" height="65.00" fill="#1f948c"/>
<rect x="703.87" y="1214.00" width="4.56" height="65.00" fill="#440154"/>
<rect x="708.13" y="1214.00" width="10.57" height="65.00" fill="#38598c"/>
<rect x="718.40" y="1214.00" width="2.82" height="65.00" fill="#404588"/>
<rect x="720.92" y="1214.00" width="5.53" height="65.00" fill="#470d60"/>
<rect x="726.16" y="1214.00" width="12.90" height="65.00" fill="#33628d"/>
<rect x="738.76" y="1214.00" width="4.18" height="65.00" fill="#228c8d"/>
<rect x="742.64" y="1214.00" width="3.79" height="65.00" fill="#31b57b"/>
<rect x="746.13" y="1214.00" width="10.38" height="65.00" fill="#77d153"/>
<rect x="756.21" y="1214.00" width="34.22" height="65.00" fill="#a2da37"/>
<rect x="790.13" y="1214.00" width="6.12" height="65.00" fill="#77d153"/>
<rect x="795.95" y="1214.00" width="3.21" height="65.00" fill="#3fbc73"/>
<rect x="798.85" y="1214.00" width="2.63" height="65.00" fill="#228c8d"/>
<rect x="801.18" y="1214.00" width="3.79" height="65.00" fill="#404588"/>
<rect x="804.67" y="1214.00" width="3.21" height="65.00" fill="#25838e"/>
<rect x="807.58" y="1214.00" width="3.21" height="65.00" fill="#31b57b"/>
<rect x="810.48" y="1214.00" width="4.18" height="65.00" fill="#63cb5f"/>
<rect x="814.36" y="1214.00" width="9.02" height="65.00" fill="#77d153"/>
<rect x="823.09" y="1214.00" width="14.84" height="65.00" fill="#8bd646"/>
<rect x="837.62" y="1214.00" width="5.15" height="65.00" fill="#63cb5f"/>
<rect x="842.47" y="1214.00" width="6.12" height="65.00" fill="#3fbc73"/>
<rect x="848.29" y="1214.00" width="7.08" height="65.00" fill="#1e9d89"/>
<rect x="855.07" y="1214.00" width="8.05" height="65.00" fill="#228c8d"/>
<rect x="862.83" y="1214.00" width="4.18" height="65.00" fill="#33628d"/>
<rect x="866.70" y="1214.00" width="5.73" height="65.00" fill="#470d60"/>
<rect x="872.13" y="1214.00" width="3.60" height="65.00" fill="#2f6b8e"/>
<rect x="875.43" y="1214.00" width="5.15" height="65.00" fill="#1e9d89"/>
<rect x="880.27" y="1214.00" width="11.93" height="65.00" fill="#26ad81"/>
<rect x="891.90" y="1214.00" width="5.15" height="65.00" fill="#3fbc73"/>
<rect x="896.75" y="1214.00" width="5.15" height="65.00" fill="#77d153"/>
<rect x="901.60" y="1214.00" width="15.81" height="65.00" fill="#a2da37"/>
<rect x="917.10" y="1214.00" width="8.05" height="65.00" fill="#8bd646"/>
<rect x="924.86" y="1214.00" width="8.05" height="65.00" fill="#63cb5f"/>
<rect x="932.61" y="1214.00" width="6.12" height="65.00" fill="#21a585"/>
<rect x="938.43" y="1214.00" width="10.96" height="65.00" fill="#228c8d"/>
<rect x="949.09" y="1214.00" width="5.15" height="65.00" fill="#2f6b8e"/>
<rect x="953.94" y="1214.00" width="4.18" height="65.00" fill="#443b84"/>
<rect x="957.81" y="1214.00" width="5.15" height="65.00" fill="#470d60"/>
<rect x="962.66" y="1214.00" width="4.18" height="65.00" fill="#38598c"/>
<rect x="966.54" y="1214.00" width="4.18" height="65.00" fill="#25838e"/>
<rect x="970.41" y="1214.00" width="3.21" height="65.00" fill="#3fbc73"/>
<rect x="973.32" y="1214.00" width="7.08" height="65.00" fill="#a2da37"/>
<rect x="980.11" y="1214.00" width="2.24" height="65.00" fill="#bade28"/>
<rect x="982.04" y="1214.00" width="10.96" height="65.00" fill="#a2da37"/>
<rect x="992.71" y="1214.00" width="9.99" height="65.00" fill="#8bd646"/>
<rect x="1002.40" y="1214.00" width="12.75" height="65.00" fill="#77d153"/>
<rect x="1014.85" y="1214.00" width="4.18" height="65.00" fill="#3fbc73"/>
<rect x="1018.72" y="1214.00" width="5.15" height="65.00" fill="#21a585"/>
<rect x="1023.57" y="1214.00" width="6.12" height="65.00" fill="#1f948c"/>
<rect x="1029.39" y="1214.00" width="8.05" height="65.00" fill="#25838e"/>
<rect x="1037.14" y="1214.00" width="13.87" height="65.00" fill="#297b8e"/>
<rect x="1050.71" y="1214.00" width="3.21" height="65.00" fill="#38598c"/>
<rect x="1053.62" y="1214.00" width="3.21" height="65.00" fill="#481a6c"/>
<rect x="1056.52" y="1214.00" width="3.21" height="65.00" fill="#3c4f8a"/>
<rect x="1059.43" y="1214.00" width="4.18" height="65.00" fill="#228c8d"/>
<rect x="1063.31" y="1214.00" width="5.15" height="65.00" fill="#1e9d89"/>
<rect x="1068.16" y="1214.00" width="10.96" height="65.00" fill="#21a585"/>
<rect x="1078.82" y="1214.00" width="16.78" height="65.00" fill="#228c8d"/>
<rect x="1095.30" y="1214.00" width="10.96" height="65.00" fill="#297b8e"/>
<rect x="1105.96" y="1214.00" width="10.96" height="65.00" fill="#2f6b8e"/>
<rect x="1116.62" y="1214.00" width="14.84" height="65.00" fill="#297b8e"/>
<rect x="1131.16" y="1214.00" width="24.53" height="65.00" fill="#2f6b8e"/>
<rect x="1155.39" y="1214.00" width="6.12" height="65.00" fill="#38598c"/>
<rect x="1161.21" y="1214.00" width="10.96" height="65.00" fill="#443b84"/>
<rect x="1171.87" y="1214.00" width="3.21" height="65.00" fill="#3c4f8a"/>
<rect x="1174.78" y="1214.00" width="5.15" height="65.00" fill="#443b84"/>
<rect x="1179.62" y="1214.00" width="5.15" height="65.00" fill="#482576"/>
<rect x="1184.47" y="1214.00" width="9.99" height="65.00" fill="#470d60"/>
<rect x="1194.16" y="1214.00" width="8.05" height="65.00" fill="#482576"/>
<rect x="1201.91" y="1214.00" width="6.12" height="65.00" fill="#470d60"/>
<rect x="1207.73" y="1214.00" width="6.12" height="65.00" fill="#440154"/>
<rect x="1213.55" y="1214.00" width="9.02" height="65.00" fill="#482576"/>
<rect x="1222.27" y="1214.00" width="8.05" height="65.00" fill="#46307e"/>
<rect x="1230.02" y="1214.00" width="9.99" height="65.00" fill="#404588"/>
<rect x="1239.72" y="1214.00" width="4.18" height="65.00" fill="#46307e"/>
<rect x="1243.59" y="1214.00" width="5.15" height="65.00" fill="#481a6c"/>
<rect x="1248.44" y="1214.00" width="15.81" height="65.00" fill="#440154"/>
<rect x="1263.95" y="1214.00" width="7.08" height="65.00" fill="#470d60"/>
<rect x="1270.73" y="1214.00" width="9.02" height="65.00" fill="#482576"/>
<rect x="1279.46" y="1214.00" width="9.99" height="65.00" fill="#443b84"/>
<rect x="1289.15" y="1214.00" width="4.18" height="65.00" fill="#482576"/>
<rect x="1293.03" y="1214.00" width="4.18" height="65.00" fill="#2f6b8e"/>
<rect x="1296.90" y="1214.00" width="8.05" height="65.00" fill="#33628d"/>
<rect x="1304.66" y="1214.00" width="6.12" height="65.00" fill="#3c4f8a"/>
<rect x="1310.47" y="1214.00" width="6.12" height="65.00" fill="#443b84"/>
<rect x="1316.29" y="1214.00" width="9.99" height="65.00" fill="#481a6c"/>
<rect x="1325.98" y="1214.00" width="8.05" height="65.00" fill="#470d60"/>
<rect x="1333.74" y="1214.00" width="6.12" height="65.00" fill="#482576"/>
<rect x="1339.55" y="1214.00" width="4.18" height="65.00" fill="#404588"/>
<rect x="1343.43" y="1214.00" width="8.05" height="65.00" fill="#443b84"/>
<rect x="1351.18" y="1214.00" width="12.90" height="65.00" fill="#470d60"/>
<rect x="1363.78" y="1214.00" width="3.21" height="65.00" fill="#404588"/>
<rect x="1366.69" y="1214.00" width="15.81" height="65.00" fill="#33628d"/>
<rect x="1382.20" y="1214.00" width="6.12" height="65.00" fill="#443b84"/>
<rect x="1388.01" y="1214.00" width="6.12" height="65.00" fill="#481a6c"/>
<rect x="1393.83" y="1214.00" width="13.87" height="65.00" fill="#482576"/>
<rect x="1407.40" y="1214.00" width="7.90" height="65.00" fill="#470d60"/>
<rect x="1415.00" y="1214.00" width="7.08" height="65.00" fill="#440154"/>
<rect x="1421.78" y="1214.00" width="10.96" height="65.00" fill="#482576"/>
<rect x="1432.45" y="1214.00" width="3.21" height="65.00" fill="#443b84"/>
<rect x="1435.35" y="1214.00" width="9.02" height="65.00" fill="#482576"/>
<rect x="1444.08" y="1214.00" width="12.90" height="65.00" fill="#404588"/>
<rect x="1456.68" y="1214.00" width="4.18" height="65.00" fill="#470d60"/>
<rect x="1460.56" y="1214.00" width="10.96" height="65.00" fill="#440154"/>
<rect x="1471.22" y="1214.00" width="15.81" height="65.00" fill="#33628d"/>
<rect x="1486.73" y="1214.00" width="14.84" height="65.00" fill="#443b84"/>
<rect x="1501.26" y="1214.00" width="14.84" height="65.00" fill="#38598c"/>
<rect x="1515.80" y="1214.00" width="5.15" height="65.00" fill="#2c738e"/>
<rect x="1520.65" y="1214.00" width="8.05" height="65.00" fill="#297b8e"/>
<rect x="1528.40" y="1214.00" width="6.12" height="65.00" fill="#2f6b8e"/>
<rect x="1534.22" y="1214.00" width="10.96" height="65.00" fill="#38598c"/>
<rect x="1544.88" y="1214.00" width="3.21" height="65.00" fill="#481a6c"/>
<rect x="1547.79" y="1214.00" width="10.96" height="65.00" fill="#440154"/>
<rect x="1558.45" y="1214.00" width="4.18" height="65.00" fill="#2f6b8e"/>
<rect x="1562.33" y="1214.00" width="9.99" height="65.00" fill="#1f948c"/>
<rect x="1572.02" y="1214.00" width="8.05" height="65.00" fill="#297b8e"/>
<rect x="1579.78" y="1214.00" width="4.18" height="65.00" fill="#481a6c"/>
<rect x="1583.65" y="1214.00" width="3.21" height="65.00" fill="#404588"/>
<rect x="1586.56" y="1214.00" width="11.93" height="65.00" fill="#33628d"/>
<rect x="1598.19" y="1214.00" width="5.15" height="65.00" fill="#470d60"/>
<rect x="1603.04" y="1214.00" width="6.12" height="65.00" fill="#33628d"/>
<rect x="1608.85" y="1214.00" width="11.93" height="65.00" fill="#2c738e"/>
<rect x="1620.48" y="1214.00" width="11.93" height="65.00" fill="#404588"/>
<rect x="1632.12" y="1214.00" width="10.96" height="65.00" fill="#38598c"/>
<rect x="1642.78" y="1214.00" width="5.15" height="65.00" fill="#2c738e"/>
<rect x="1647.62" y="1214.00" width="19.69" height="65.00" fill="#38598c"/>
<rect x="1667.01" y="1214.00" width="5.15" height="65.00" fill="#33628d"/>
<rect x="1671.86" y="1214.00" width="10.96" height="65.00" fill="#440154"/>
<rect x="1682.52" y="1214.00" width="15.81" height="65.00" fill="#2f6b8e"/>
<rect x="1698.03" y="1214.00" width="6.12" height="65.00" fill="#404588"/>
<rect x="1703.84" y="1214.00" width="9.99" height="65.00" fill="#482576"/>
<rect x="1713.53" y="1214.00" width="9.02" height="65.00" fill="#440154"/>
<rect x="1722.26" y="1214.00" width="20.65" height="65.00" fill="#482576"/>
<rect x="1742.61" y="1214.00" width="4.18" height="65.00" fill="#38598c"/>
<rect x="1746.49" y="1214.00" width="17.75" height="65.00" fill="#404588"/>
<rect x="1763.94" y="1214.00" width="4.18" height="65.00" fill="#481a6c"/>
<rect x="1767.81" y="1214.00" width="6.12" height="65.00" fill="#25838e"/>
<rect x="1773.63" y="1214.00" width="19.69" height="65.00" fill="#228c8d"/>
<rect x="1793.01" y="1214.00" width="5.15" height="65.00" fill="#2c738e"/>
<rect x="1797.86" y="1214.00" width="5.15" height="65.00" fill="#404588"/>
<rect x="1802.71" y="1214.00" width="14.84" height="65.00" fill="#482576"/>
<rect x="1817.25" y="1214.00" width="5.15" height="65.00" fill="#297b8e"/>
</g>
<g shape-rendering="crispEdges">
<rect x="1932.00" y="1240.02" width="50.00" height="40.28" fill="#440154"/>
<rect x="1932.00" y="1200.14" width="50.00" height="40.28" fill="#470d60"/>
<rect x="1932.00" y="1160.26" width="50.00" height="40.28" fill="#481a6c"/>
<rect x="1932.00" y="1120.38" width="50.00" height="40.28" fill="#482576"/>
<rect x="1932.00" y="1080.50" width="50.00" height="40.28" fill="#46307e"/>
<rect x="1932.00" y="1040.62" width="50.00" height="40.28" fill="#443b84"/>
<rect x="1932.00" y="1000.74" width="50.00" height="40.28" fill="#404588"/>
<rect x="1932.00" y="960.86" width="50.00" height="40.28" fill="#3c4f8a"/>
<rect x="1932.00" y="920.98" width="50.00" height="40.28" fill="#38598c"/>
<rect x="1932.00" y="881.10" width="50.00" height="40.28" fill="#33628d"/>
<rect x="1932.00" y="841.22" width="50.00" height="40.28" fill="#2f6b8e"/>
<rect x="1932.00" y="801.34" width="50.00" height="40.28" fill="#2c738e"/>
<rect x="1932.00" y="761.46" width="50.00" height="40.28" fill="#297b8e"/>
<rect x="1932.00" y="721.58" width="50.00" height="40.28" fill="#25838e"/>
<rect x="1932.00" y="681.70" width="50.00" height="40.28" fill="#228c8d"/>
<rect x="1932.00" y="641.82" width="50.00" height="40.28" fill="#1f948c"/>
<rect x="1932.00" y="601.94" width="50.00" height="40.28" fill="#1e9d89"/>
<rect x="1932.00" y="562.06" width="50.00" height="40.28" fill="#21a585"/>
<rect x="1932.00" y="522.18" width="50.00" height="40.28" fill="#26ad81"/>
<rect x="1932.00" y="482.30" width="50.00" height="40.28" fill="#31b57b"/>
<rect x="1932.00" y="442.42" width="50.00" height="40.28" fill="#3fbc73"/>
<rect x="1932.00" y="402.54" width="50.00" height="40.28" fill="#50c46a"/>
<rect x="1932.00" y="362.66" width="50.00" height="40.28" fill="#63cb5f"/>
<rect x="1932.00" y="322.78" width="50.00" height="40.28" fill="#77d153"/>
<rect x="1932.00" y="282.90" width="50.00" height="40.28" fill="#8bd646"/>
<rect x="1932.00" y="243.02" width="50.00" height="40.28" fill="#a2da37"/>
<rect x="1932.00" y="203.14" width="50.00" height="40.28" fill="#bade28"/>
<rect x="1932.00" y="163.26" width="50.00" height="40.28" fill="#d2e21b"/>
<rect x="1932.00" y="123.38" width="50.00" height="40.28" fill="#eae51a"/>
<rect x="1932.00" y="83.50" width="50.00" height="40.28" fill="#fde725"/>
</g>
<g shape-rendering="crispEdges" fill="#000">
<rect x="1930" y="82" width="4" height="1201"/><rect x="1980" y="82" width="4" height="1201"/>
<rect x="1930" y="82" width="54" height="3"/><rect x="1930" y="1279" width="54" height="4"/>
</g>
<line x1="1966.00" y1="1040.62" x2="1981.00" y2="1040.62" stroke="#000" stroke-width="3"/>
<line x1="1966.00" y1="801.34" x2="1981.00" y2="801.34" stroke="#000" stroke-width="3"/>
<line x1="1966.00" y1="562.06" x2="1981.00" y2="562.06" stroke="#000" stroke-width="3"/>
<line x1="1966.00" y1="322.78" x2="1981.00" y2="322.78" stroke="#000" stroke-width="3"/>
<g shape-rendering="crispEdges" fill="#000">
<rect x="204" y="90" width="5" height="1193"/><rect x="1820" y="90" width="4" height="1193"/>
<rect x="204" y="90" width="1620" height="4"/><rect x="204" y="1279" width="1620" height="4"/>
<rect x="191" y="1279" width="14" height="4"/>
<rect x="191" y="1147" width="14" height="4"/>
<rect x="191" y="1015" width="14" height="4"/>
<rect x="191" y="883" width="14" height="4"/>
<rect x="191" y="751" width="14" height="4"/>
<rect x="191" y="618" width="14" height="4"/>
<rect x="191" y="486" width="14" height="4"/>
<rect x="191" y="354" width="14" height="4"/>
<rect x="191" y="222" width="14" height="4"/>
<rect x="191" y="90" width="14" height="4"/>
<rect x="204" y="1280" width="5" height="16"/>
<rect x="474" y="1280" width="4" height="16"/>
<rect x="743" y="1280" width="4" height="16"/>
<rect x="1012" y="1280" width="4" height="16"/>
<rect x="1282" y="1280" width="4" height="16"/>
<rect x="1551" y="1280" width="4" height="16"/>
<rect x="1820" y="1280" width="4" height="16"/>
</g>
<text x="179.5" y="1293.60" font-size="59.5" text-anchor="end" font-family="&quot;Liberation Serif&quot;, &quot;DejaVu Serif&quot;, serif" fill="#000">1</text>
<text x="179.5" y="1161.49" font-size="59.5" text-anchor="end" font-family="&quot;Liberation Serif&quot;, &quot;DejaVu Serif&quot;, serif" fill="#000">2</text>
<text x="179.5" y="1029.38" font-size="59.5" text-anchor="end" font-family="&quot;Liberation Serif&quot;, &quot;DejaVu Serif&quot;, serif" fill="#000">3</text>
<text x="179.5" y="897.27" font-size="59.5" text-anchor="end" font-family="&quot;Liberation Serif&quot;, &quot;DejaVu Serif&quot;, serif" fill="#000">4</text>
<text x="179.5" y="765.16" font-size="59.5" text-anchor="end" font-family="&quot;Liberation Serif&quot;, &quot;DejaVu Serif&quot;, serif" fill="#000">5</text>
<text x="179.5" y="633.04" font-size="59.5" text-anchor="end" font-family="&quot;Liberation Serif&quot;, &quot;DejaVu Serif&quot;, serif" fill="#000">6</text>
<text x="179.5" y="500.93" font-size="59.5" text-anchor="end" font-family="&quot;Liberation Serif&quot;, &quot;DejaVu Serif&quot;, serif" fill="#000">7</text>
<text x="179.5" y="368.82" font-size="59.5" text-anchor="end" font-family="&quot;Liberation Serif&quot;, &quot;DejaVu Serif&quot;, serif" fill="#000">8</text>
<text x="179.5" y="236.71" font-size="59.5" text-anchor="end" font-family="&quot;Liberation Serif&quot;, &quot;DejaVu Serif&quot;, serif" fill="#000">9</text>
<text x="179.5" y="104.60" font-size="59.5" text-anchor="end" font-family="&quot;Liberation Serif&quot;, &quot;DejaVu Serif&quot;, serif" fill="#000">10</text>
<text transform="translate(205.00,1351) rotate(-45)" x="0" y="20" font-size="59.5" text-anchor="middle" font-family="&quot;Liberation Serif&quot;, &quot;DejaVu Serif&quot;, serif" fill="#000">400</text>
<text transform="translate(474.25,1351) rotate(-45)" x="0" y="20" font-size="59.5" text-anchor="middle" font-family="&quot;Liberation Serif&quot;, &quot;DejaVu Serif&quot;, serif" fill="#000">498</text>
<text transform="translate(743.50,1351) rotate(-45)" x="0" y="20" font-size="59.5" text-anchor="middle" font-family="&quot;Liberation Serif&quot;, &quot;DejaVu Serif&quot;, serif" fill="#000">596</text>
<text transform="translate(1012.75,1351) rotate(-45)" x="0" y="20" font-size="59.5" text-anchor="middle" font-family="&quot;Liberation Serif&quot;, &quot;DejaVu Serif&quot;, serif" fill="#000">694</text>
<text transform="translate(1282.00,1351) rotate(-45)" x="0" y="20" font-size="59.5" text-anchor="middle" font-family="&quot;Liberation Serif&quot;, &quot;DejaVu Serif&quot;, serif" fill="#000">792</text>
<text transform="translate(1551.25,1351) rotate(-45)" x="0" y="20" font-size="59.5" text-anchor="middle" font-family="&quot;Liberation Serif&quot;, &quot;DejaVu Serif&quot;, serif" fill="#000">890</text>
<text transform="translate(1820.50,1351) rotate(-45)" x="0" y="20" font-size="59.5" text-anchor="middle" font-family="&quot;Liberation Serif&quot;, &quot;DejaVu Serif&quot;, serif" fill="#000">988</text>
<text x="2011.5" y="1300.40" font-size="59.5" font-family="&quot;Liberation Serif&quot;, &quot;DejaVu Serif&quot;, serif" fill="#000">0</text>
<text x="2011.5" y="1061.12" font-size="59.5" font-family="&quot;Liberation Serif&quot;, &quot;DejaVu Serif&quot;, serif" fill="#000">0.2</text>
<text x="2011.5" y="821.84" font-size="59.5" font-family="&quot;Liberation Serif&quot;, &quot;DejaVu Serif&quot;, serif" fill="#000">0.4</text>
<text x="2011.5" y="582.56" font-size="59.5" font-family="&quot;Liberation Serif&quot;, &quot;DejaVu Serif&quot;, serif" fill="#000">0.6</text>
<text x="2011.5" y="343.28" font-size="59.5" font-family="&quot;Liberation Serif&quot;, &quot;DejaVu Serif&quot;, serif" fill="#000">0.8</text>
<text x="2011.5" y="104.00" font-size="59.5" font-family="&quot;Liberation Serif&quot;, &quot;DejaVu Serif&quot;, serif" fill="#000">1</text>
<text x="1925.2" y="64.6" font-size="57.5" font-family="&quot;Liberation Serif&quot;, &quot;DejaVu Serif&quot;, serif" fill="#000"><tspan font-size="46" font-weight="bold" stroke="#000" stroke-width="0.6" dy="-9.5">|</tspan><tspan dx="11" dy="9.5">r</tspan><tspan font-size="46" font-weight="bold" stroke="#000" stroke-width="0.6" dx="13.2" dy="-9.5">|</tspan></text>
<text x="1013.5" y="1513.2" font-size="82" text-anchor="middle" textLength="608" lengthAdjust="spacingAndGlyphs" font-family="&quot;Liberation Serif&quot;, &quot;DejaVu Serif&quot;, serif" fill="#000">Wavelength (nm)</text>
<text transform="translate(89,686.4) rotate(-90)" x="0" y="0" font-size="82" text-anchor="middle" textLength="732.5" lengthAdjust="spacingAndGlyphs" font-family="&quot;Liberation Serif&quot;, &quot;DejaVu Serif&quot;, serif" fill="#000">Decomposition scales</text>
</svg>
</body></html>
